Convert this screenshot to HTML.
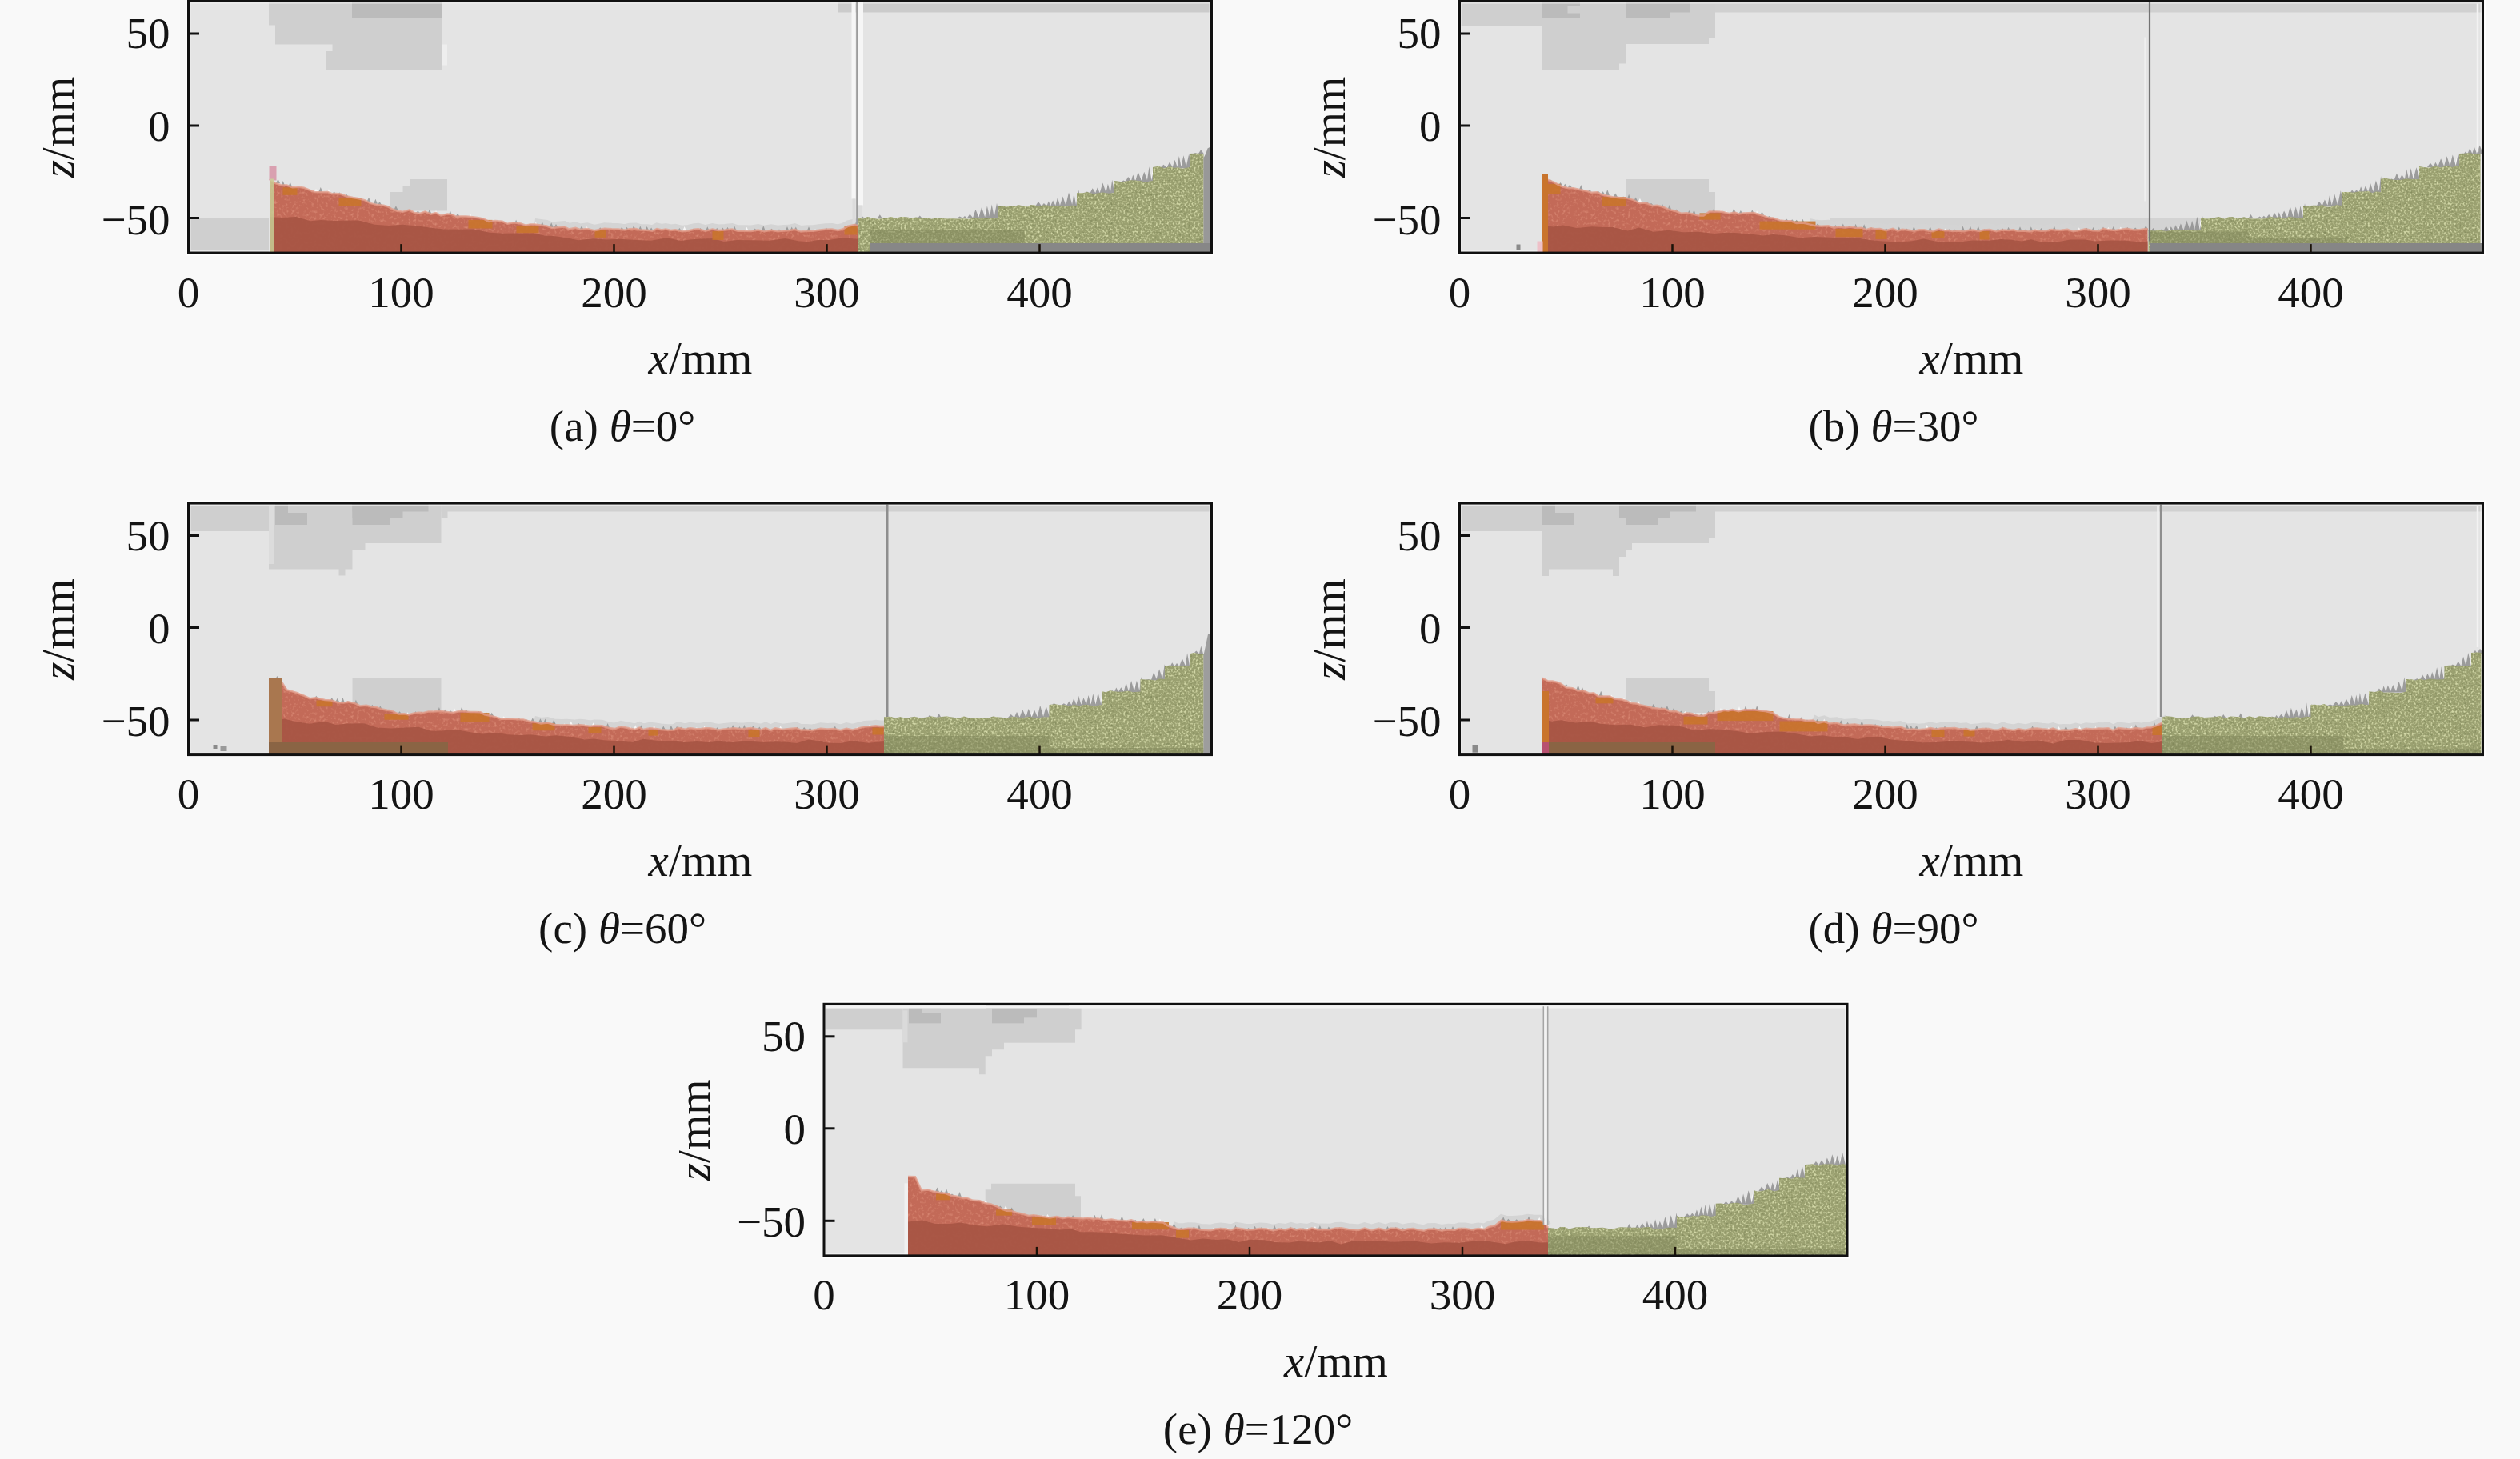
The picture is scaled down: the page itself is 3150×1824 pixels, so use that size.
<!DOCTYPE html>
<html><head><meta charset="utf-8"><title>figure</title>
<style>
html,body{margin:0;padding:0;background:#f9f9f9}
body{width:3150px;height:1824px;overflow:hidden}
svg{display:block}
text{font-family:'Liberation Serif','Times New Roman',serif;font-size:55px;fill:#141414}
</style></head><body>
<svg width="3150" height="1824" viewBox="0 0 3150 1824">
<defs>
<filter id="ngl" x="0" y="0" width="100%" height="100%" color-interpolation-filters="sRGB">
<feTurbulence type="fractalNoise" baseFrequency="0.42 0.4" numOctaves="1" seed="7"/>
<feColorMatrix type="matrix" values="0 0 0 0 0.82  0 0 0 0 0.84  0 0 0 0 0.65  4 0 0 0 -1.9"/>
<feComposite in2="SourceGraphic" operator="in"/>
</filter>
<filter id="ngd" x="0" y="0" width="100%" height="100%" color-interpolation-filters="sRGB">
<feTurbulence type="fractalNoise" baseFrequency="0.36 0.34" numOctaves="1" seed="23"/>
<feColorMatrix type="matrix" values="0 0 0 0 0.50  0 0 0 0 0.53  0 0 0 0 0.35  0 3.5 0 0 -2.0"/>
<feComposite in2="SourceGraphic" operator="in"/>
</filter>
<filter id="nrl" x="0" y="0" width="100%" height="100%" color-interpolation-filters="sRGB">
<feTurbulence type="fractalNoise" baseFrequency="0.28 0.26" numOctaves="2" seed="5"/>
<feColorMatrix type="matrix" values="0 0 0 0 0.84  0 0 0 0 0.52  0 0 0 0 0.44  3 0 0 0 -1.55"/>
<feComposite in2="SourceGraphic" operator="in"/>
</filter>
</defs>
<rect width="3150" height="1824" fill="#f9f9f9"/>
<g transform="translate(235.5,1.5)">
<rect x="0" y="0" width="1279" height="314.6" fill="#e4e4e4"/>
<polygon points="100.5,0 316.5,0 316.5,86.5 172.5,86.5 172.5,62.5 180,62.5 180,54 108.5,54 108.5,30 100.5,30" fill="#cfcfcf"/>
<polygon points="252.5,262 252.5,238.5 268,238.5 268,230.5 277,230.5 277,222.5 323.5,222.5 323.5,262" fill="#cfcfcf"/>
<polygon points="316.5,54 323.5,54 323.5,80 316.5,80" fill="#eeeeee"/>
<rect x="204.5" y="0" width="112" height="21.5" fill="#bbbbbb"/>
<rect x="812.5" y="0" width="466" height="14" fill="#cbcbcb"/>
<rect x="1.5" y="270.5" width="99" height="43.5" fill="#cfcfcf"/>
<rect x="2.4" y="2.4" width="1274.2" height="309.8" fill="none" stroke="#f4f4f4" stroke-width="1.2" opacity="0.7"/>
<polyline points="433,275.4 440.4,276.5 447.8,277.5 454.6,279.9 461.5,279.2 470.1,278.6 475.6,281.4 483.9,279.9 489.6,281.9 498.5,280.9 507.4,283.3 514.8,281.8 520.2,280.7 529.1,281.3 537,281.5 545.3,282.6 551.5,281.3 559.4,281 565.2,282.6 573.7,282.8 579.8,283.8 585.6,281 591.6,282.4 596.7,281.6 603.2,282.9 608.6,282.3 617.3,284.3 624.9,283.4 632.3,281.7 637.3,281.3 646.1,283.6 655,281.5 662.6,282.9 670.5,282.4 679.6,281.6 686.8,283.8 695.5,283.8 703.4,283.9 712.1,282.5 719.9,284.3 728.5,282.7 736.7,284.2 744,283.4 750.5,283.3 757.9,281.7 765.5,284.6 774.1,283.7 780.7,283.8 788,282.8 796.4,281.7 804.5,281.5 811.9,282.9 817.8,281.5 824.7,277.7 833.5,275.9 836.5,276.5" fill="none" stroke="#d4d4d4" stroke-width="8"/>
<path d="M131.6,233.6 l2.5,-2.8 l2.5,2.8 z M157,237.7 l2.5,-3.3 l2.5,3.3 z M172.9,240.5 l2.5,-5.8 l2.5,5.8 z M276.5,263.6 l2.5,-2.8 l2.5,2.8 z M292.2,265.1 l2.5,-2.7 l2.5,2.7 z M307,266.6 l2.5,-5 l2.5,5 z M350.1,271.3 l2.5,-5.5 l2.5,5.5 z M367.7,273.8 l2.5,-2.8 l2.5,2.8 z M385.9,276.3 l2.5,-2.9 l2.5,2.9 z M431.8,281.1 l2.5,-5.1 l2.5,5.1 z M495.7,286.2 l2.5,-4.6 l2.5,4.6 z M617.6,287.3 l2.5,-5.7 l2.5,5.7 z M695.4,287.5 l2.5,-5.2 l2.5,5.2 z M781,287.5 l2.5,-2.8 l2.5,2.8 z" fill="#fafafa" opacity="0.9"/>
<path d="M109.5,227.6 l2.5,-5.4 l2.5,5.4 z M115.7,230.9 l2.5,-6.5 l2.5,6.5 z M124.7,232.4 l2.5,-6.5 l2.5,6.5 z M162.8,238.6 l2.5,-6.2 l2.5,6.2 z M179.6,241.7 l2.5,-4.3 l2.5,4.3 z M186.2,242.9 l2.5,-4.1 l2.5,4.1 z M195,244.5 l2.5,-3.6 l2.5,3.6 z M212.7,247.8 l2.5,-2.2 l2.5,2.2 z M223,250.7 l2.5,-5.5 l2.5,5.5 z M231.4,253.2 l2.5,-6 l2.5,6 z M236.5,254.7 l2.5,-4.3 l2.5,4.3 z M248.1,258.2 l2.5,-2.2 l2.5,2.2 z M256.9,260.8 l2.5,-5.1 l2.5,5.1 z M284.4,264.3 l2.5,-2.1 l2.5,2.1 z M298.9,265.8 l2.5,-5.5 l2.5,5.5 z M324.8,268.4 l2.5,-6.7 l2.5,6.7 z M334.1,269.3 l2.5,-4.3 l2.5,4.3 z M407.1,279.2 l2.5,-6 l2.5,6 z M424.2,280.5 l2.5,-2.4 l2.5,2.4 z M439.8,281.7 l2.5,-6 l2.5,6 z M451.2,282.6 l2.5,-5.9 l2.5,5.9 z M457,283.1 l2.5,-4.6 l2.5,4.6 z M489,285.6 l2.5,-4.6 l2.5,4.6 z M512.2,286.6 l2.5,-3.9 l2.5,3.9 z M539.3,286.8 l2.5,-4.9 l2.5,4.9 z M545.6,286.8 l2.5,-4.5 l2.5,4.5 z M554.2,286.8 l2.5,-6.8 l2.5,6.8 z M562.3,286.9 l2.5,-6 l2.5,6 z M570.7,287 l2.5,-5.5 l2.5,5.5 z M576.1,287 l2.5,-4.1 l2.5,4.1 z M593.4,287.1 l2.5,-2.6 l2.5,2.6 z M611.4,287.2 l2.5,-3.6 l2.5,3.6 z M628.5,287.3 l2.5,-3.1 l2.5,3.1 z M637.6,287.4 l2.5,-3.8 l2.5,3.8 z M646.3,287.4 l2.5,-5.7 l2.5,5.7 z M652.1,287.5 l2.5,-3.3 l2.5,3.3 z M658.2,287.5 l2.5,-4.2 l2.5,4.2 z M665.5,287.5 l2.5,-4.6 l2.5,4.6 z M671.5,287.5 l2.5,-5.2 l2.5,5.2 z M680.3,287.5 l2.5,-6.3 l2.5,6.3 z M705.8,287.5 l2.5,-3.6 l2.5,3.6 z M716.3,287.5 l2.5,-7 l2.5,7 z M726.6,287.5 l2.5,-3.2 l2.5,3.2 z M736,287.5 l2.5,-2.5 l2.5,2.5 z M746,287.5 l2.5,-5.9 l2.5,5.9 z M751.7,287.5 l2.5,-5.4 l2.5,5.4 z M756.8,287.5 l2.5,-5.4 l2.5,5.4 z M773,287.5 l2.5,-5.8 l2.5,5.8 z M786.4,287.5 l2.5,-2.2 l2.5,2.2 z M794.8,287.5 l2.5,-4.8 l2.5,4.8 z M800.6,287.5 l2.5,-3 l2.5,3 z M821.2,282.6 l2.5,-2.3 l2.5,2.3 z M831.9,281.3 l2.5,-5.8 l2.5,5.8 z" fill="#8e8e8e" opacity="0.8"/>
<polygon id="ra" points="101.5,314.6 101.5,222.3 108.8,227.6 115.6,229.8 123,230.1 130,232.7 138.3,232.3 144.4,233.3 152.7,236.6 157.8,238.4 166.8,238.8 174.2,238.6 179.2,240.7 184.4,240.6 190.3,241.1 197.1,243.7 205.6,245.5 213.1,246.8 220.8,248.9 226.9,252.4 236,254.6 243.9,255.3 249.7,257 254.9,260 261.5,262.2 268,263.2 276.5,260.9 282.3,264.4 289.1,265.4 295.7,263.1 303.2,266.1 309.3,264.5 315.6,267.9 323.7,266 329.6,266.6 334.7,269.3 340.4,269.1 347.2,268.9 355.1,269.8 362.7,270.8 369.4,272.1 375.4,275.4 383.7,274.4 392.3,275.3 398.9,278.3 406.5,276.8 415.5,277.9 421.5,280.2 427.8,279.1 433,278.9 440.4,280 447.8,281 454.6,283.4 461.5,282.7 470.1,282.1 475.6,284.9 483.9,283.4 489.6,285.4 498.5,284.4 507.4,286.8 514.8,285.3 520.2,284.2 529.1,284.8 537,285 545.3,286.1 551.5,284.8 559.4,284.5 565.2,286.1 573.7,286.3 579.8,287.3 585.6,284.5 591.6,285.9 596.7,285.1 603.2,286.4 608.6,285.8 617.3,287.8 624.9,286.9 632.3,285.2 637.3,284.8 646.1,287.1 655,285 662.6,286.4 670.5,285.9 679.6,285.1 686.8,287.3 695.5,287.3 703.4,287.4 712.1,286 719.9,287.8 728.5,286.2 736.7,287.7 744,286.9 750.5,286.8 757.9,285.2 765.5,288.1 774.1,287.2 780.7,287.3 788,286.3 796.4,285.2 804.5,285 811.9,286.4 817.8,285 824.7,281.2 833.5,279.4 836.5,280 836.5,314.6" fill="#c36a58"/>
<use href="#ra" filter="url(#nrl)"/>
<polygon points="101.5,314.6 101.5,269.8 117.6,270.6 134.6,269.5 152.5,274.7 165.5,273.5 183.8,274.4 196.9,273.9 213,274.1 232.8,279.2 250.7,280.6 268,279.3 284.9,280.8 305.5,283.5 319.2,284.9 337.6,285.3 356.6,285 376.4,289.3 394.3,290.3 412.8,290.1 431,289.9 445.4,293 456.7,293.4 474.1,296.1 487.5,298.7 505.1,296.7 522.6,298 538.9,297.2 559.7,298.6 577.7,299.3 598.3,295.7 615.4,299.4 629.1,297.8 640.7,296.9 655.5,296.5 669.2,300.5 685.6,298.5 706.1,298.8 726.9,299.2 745.8,296.4 762.8,299.8 774.4,300.7 787.1,298.4 800,298.5 817,295.9 836.5,297 836.5,314.6" fill="#a85545" opacity="0.95"/>
<rect x="118" y="232.8" width="18" height="9.5" fill="#c9742c" opacity="0.9"/>
<rect x="188" y="245.8" width="28" height="10.2" fill="#c9742c" opacity="0.9"/>
<rect x="350" y="273.4" width="30" height="10.6" fill="#c9742c" opacity="0.9"/>
<rect x="410" y="280.5" width="28" height="9.2" fill="#c9742c" opacity="0.9"/>
<rect x="508" y="286.6" width="14" height="8.7" fill="#c9742c" opacity="0.9"/>
<rect x="655" y="287.5" width="14" height="10.9" fill="#c9742c" opacity="0.9"/>
<rect x="820" y="281.6" width="16" height="10.4" fill="#c9742c" opacity="0.9"/>
<polyline points="101.5,222.3 108.8,227.6 115.6,229.8 123,230.1 130,232.7 138.3,232.3 144.4,233.3 152.7,236.6 157.8,238.4 166.8,238.8 174.2,238.6 179.2,240.7 184.4,240.6 190.3,241.1 197.1,243.7 205.6,245.5 213.1,246.8 220.8,248.9 226.9,252.4 236,254.6 243.9,255.3 249.7,257 254.9,260 261.5,262.2 268,263.2 276.5,260.9 282.3,264.4 289.1,265.4 295.7,263.1 303.2,266.1 309.3,264.5 315.6,267.9 323.7,266 329.6,266.6 334.7,269.3 340.4,269.1 347.2,268.9 355.1,269.8 362.7,270.8 369.4,272.1 375.4,275.4 383.7,274.4 392.3,275.3 398.9,278.3 406.5,276.8 415.5,277.9 421.5,280.2 427.8,279.1 433,278.9 440.4,280 447.8,281 454.6,283.4 461.5,282.7 470.1,282.1 475.6,284.9 483.9,283.4 489.6,285.4 498.5,284.4 507.4,286.8 514.8,285.3 520.2,284.2 529.1,284.8 537,285 545.3,286.1 551.5,284.8 559.4,284.5 565.2,286.1 573.7,286.3 579.8,287.3 585.6,284.5 591.6,285.9 596.7,285.1 603.2,286.4 608.6,285.8 617.3,287.8 624.9,286.9 632.3,285.2 637.3,284.8 646.1,287.1 655,285 662.6,286.4 670.5,285.9 679.6,285.1 686.8,287.3 695.5,287.3 703.4,287.4 712.1,286 719.9,287.8 728.5,286.2 736.7,287.7 744,286.9 750.5,286.8 757.9,285.2 765.5,288.1 774.1,287.2 780.7,287.3 788,286.3 796.4,285.2 804.5,285 811.9,286.4 817.8,285 824.7,281.2 833.5,279.4 836.5,280" fill="none" stroke="#e29c8a" stroke-width="2.5" opacity="0.8"/>
<rect x="101" y="206" width="9" height="18" fill="#d9a0b0"/>
<rect x="101.5" y="222" width="5" height="92" fill="#c9d49a" opacity="0.8"/>
<path d="M966.6,271.5 l2,-1.1 l3,1.1 z M972.3,271.5 l2,-1.7 l3,1.7 z M979.3,271.5 l2,-3.5 l3,3.5 z M986.5,271.5 l2,-8.1 l3,8.1 z M994.2,271.5 l2,-10.2 l3,10.2 z M1115.1,256.5 l2,-15.6 l3,15.6 z M1145.5,240.5 l2,-9.9 l3,9.9 z M1151.4,240.5 l2,-9 l3,9 z M1177.1,225.5 l2,-3.9 l3,3.9 z M1182.6,225.5 l2,-6 l3,6 z M1189.8,225.5 l2,-8.9 l3,8.9 z M1202.8,225.5 l2,-14.1 l3,14.1 z M1210,225.5 l2,-13.9 l3,13.9 z M1221.7,208.5 l2,-2.6 l3,2.6 z M1235,208.5 l2,-7.3 l3,7.3 z M1240,208.5 l2,-11.3 l3,11.3 z M1253.2,208.5 l2,-13.1 l3,13.1 z M1261,191.5 l2,-0.9 l3,0.9 z" fill="#fafafa" opacity="0.85"/>
<path d="M960.5,271.5 L964.2,269.1 L968.5,271.5 z M967.6,271.5 L970.4,268.4 L973.7,271.5 z M973,271.5 L976.8,266.1 L981.2,271.5 z M980.2,271.5 L984,260.3 L988.3,271.5 z M987.4,271.5 L991.5,257.8 L996.3,271.5 z M995.3,271.5 L998.4,255.9 L1002.1,271.5 z M1001.3,271.5 L1004.2,253.9 L1007.5,271.5 z M1006.8,271.5 L1010.5,252.5 L1014.8,271.5 z M1058.5,256.5 L1062.4,250.6 L1066.9,256.5 z M1065.9,256.5 L1069.4,252.6 L1073.6,256.5 z M1072.7,256.5 L1075.2,250.1 L1078.1,256.5 z M1077.5,256.5 L1080.6,249 L1084.4,256.5 z M1083.6,256.5 L1086.5,245.5 L1089.8,256.5 z M1089.1,256.5 L1092.9,244 L1097.3,256.5 z M1096.4,256.5 L1100.5,238.9 L1105.3,256.5 z M1104.3,256.5 L1106.9,240.2 L1109.9,256.5 z M1109.2,256.5 L1112.8,236 L1116.9,256.5 z M1119.7,240.5 L1123.3,238.1 L1127.6,240.5 z M1126.7,240.5 L1130.2,233.7 L1134.3,240.5 z M1133.4,240.5 L1136.3,232.9 L1139.6,240.5 z M1138.9,240.5 L1142.9,227.1 L1147.5,240.5 z M1146.5,240.5 L1149.4,228.3 L1152.8,240.5 z M1152.1,240.5 L1154.7,223.2 L1157.7,240.5 z M1166.3,225.5 L1168.9,224.1 L1171.8,225.5 z M1171.2,225.5 L1174.7,219.6 L1178.9,225.5 z M1178,225.5 L1180.8,217 L1184,225.5 z M1183.3,225.5 L1187.2,213.4 L1191.8,225.5 z M1190.8,225.5 L1194.7,213.3 L1199.2,225.5 z M1198.2,225.5 L1201,206.8 L1204.2,225.5 z M1203.5,225.5 L1207.4,207.1 L1211.9,225.5 z M1214.7,208.5 L1218.9,204.2 L1223.8,208.5 z M1222.7,208.5 L1226.5,201.1 L1230.8,208.5 z M1229.9,208.5 L1233,198.3 L1236.5,208.5 z M1235.8,208.5 L1238.3,193.4 L1241.3,208.5 z M1240.6,208.5 L1243.9,192.7 L1247.7,208.5 z M1246.9,208.5 L1250.7,191.1 L1255.1,208.5 z M1255,191.5 L1258.6,189.4 L1262.8,191.5 z M1261.9,191.5 L1265.6,185.8 L1269.9,191.5 z M839.5,271.5 l3,-2.6 l3,2.6 z M861.3,271.5 l3,-4.8 l3,4.8 z M911.3,271.5 l3,-3.6 l3,3.6 z" fill="#8e8e8e" opacity="0.85"/>
<polygon id="ga" points="836.5,314.6 836.5,270.5 843.5,271.9 848.7,269.4 854.7,270.9 861,272.2 867.6,271.7 871.9,270.9 879,269.6 883.3,271.5 890.9,269.6 897.5,269.7 904.4,271.2 909.4,270 916.5,270.9 923.6,270.5 928.9,272.2 935.6,270.8 941.7,271.5 948.6,272 954.2,271.8 960.9,271.9 968.1,271.8 975.7,272.2 982.2,270.9 989.1,271.7 994.8,270.6 999.3,271.5 1007.3,270.4 1012.5,270.5 1012.5,255.5 1017.3,255.6 1022.5,257.2 1026.7,255.2 1031.2,256.2 1038.3,254.8 1042.5,255.7 1048.9,257 1053,254.6 1057.8,255 1062.7,256.5 1069.1,255 1073.8,255.1 1078.5,256.6 1083.8,255.9 1091,255.7 1096.1,257 1103.7,255.3 1110.5,255.5 1110.5,239.5 1118.3,239.7 1123.2,238.4 1131,240.7 1136.5,239.9 1142.6,239.1 1150.6,240.3 1156.5,239.5 1156.5,224.5 1160.5,224.7 1166,225.7 1172.9,225.1 1177.5,223.8 1182.8,224.1 1190.3,224.8 1196.8,226.3 1201.9,224.9 1205.5,224.5 1205.5,207.5 1212.6,206.3 1219.9,208.8 1227.2,206.5 1232.2,208.4 1236.6,207.7 1242.5,209.2 1251.5,207.5 1251.5,190.5 1258.9,190.2 1269,190.5 1269,314.6" fill="#9aa070"/>
<use href="#ga" filter="url(#ngl)"/>
<use href="#ga" filter="url(#ngd)"/>
<polygon points="852,286 1045,286 1045,303 852,303" fill="#80855a" opacity="0.5"/>
<polygon points="1269,314 1269,196 1272,190 1274,184 1277.5,182 1277.5,314" fill="#8f8f8f" opacity="0.9"/>
<rect x="852" y="302.5" width="425.5" height="11.5" fill="#878787"/>
<line x1="831.5" y1="1.5" x2="831.5" y2="247" stroke="#f6f6f6" stroke-width="5"/>
<line x1="840.5" y1="1.5" x2="840.5" y2="255" stroke="#f6f6f6" stroke-width="6"/>
<line x1="832" y1="247" x2="832" y2="278" stroke="#dcdcdc" stroke-width="4"/>
<line x1="840" y1="255" x2="840" y2="270" stroke="#dcdcdc" stroke-width="5"/>
<line x1="835.7" y1="1.5" x2="835.7" y2="279" stroke="#9c9c9c" stroke-width="2"/>
<line x1="0" y1="40.5" x2="13.5" y2="40.5" stroke="#111" stroke-width="3"/>
<line x1="0" y1="155.5" x2="13.5" y2="155.5" stroke="#111" stroke-width="3"/>
<line x1="0" y1="271" x2="13.5" y2="271" stroke="#111" stroke-width="3"/>
<line x1="266" y1="314.6" x2="266" y2="303.6" stroke="#1a1208" stroke-width="2.5"/>
<line x1="532" y1="314.6" x2="532" y2="303.6" stroke="#1a1208" stroke-width="2.5"/>
<line x1="798" y1="314.6" x2="798" y2="303.6" stroke="#1a1208" stroke-width="2.5"/>
<line x1="1064" y1="314.6" x2="1064" y2="303.6" stroke="#1a1208" stroke-width="2.5"/>
<rect x="-2.6" y="-2.6" width="1284.2" height="319.8" fill="none" stroke="#ffffff" stroke-width="1.6"/>
<rect x="0" y="0" width="1279" height="314.6" fill="none" stroke="#111" stroke-width="3"/>
</g>
<g transform="translate(1824.5,1.5)">
<rect x="0" y="0" width="1279" height="314.6" fill="#e4e4e4"/>
<polygon points="103.5,0 319.5,0 319.5,46.5 311.5,46.5 311.5,53.5 207.5,53.5 207.5,78 199.5,78 199.5,86.5 103.5,86.5" fill="#cfcfcf"/>
<polygon points="207.5,222.5 311.5,222.5 311.5,238.5 319.5,238.5 319.5,270 207.5,270" fill="#cfcfcf"/>
<rect x="1.5" y="0" width="102" height="30.5" fill="#cfcfcf"/>
<rect x="319.5" y="0" width="958" height="14" fill="#d0d0d0"/>
<rect x="103.5" y="0" width="47" height="21.5" fill="#bbbbbb"/>
<rect x="135" y="6" width="16" height="9" fill="#cfcfcf"/>
<rect x="207.5" y="0" width="80" height="14" fill="#bbbbbb"/>
<rect x="207.5" y="0" width="56" height="21.5" fill="#bbbbbb"/>
<rect x="462.5" y="270.5" width="464" height="17" fill="#d3d3d3"/>
<rect x="71" y="304" width="5" height="7" fill="#8a8a8a"/>
<rect x="2.4" y="2.4" width="1274.2" height="309.8" fill="none" stroke="#f4f4f4" stroke-width="1.2" opacity="0.7"/>
<polyline points="437.2,275.4 443.6,276.9 452,277.7 460.8,277.2 467.8,279.6 474.2,278.4 482,279.6 488,278.6 497,279.9 502.4,279.7 508.3,282.1 514,280.4 519.3,281.2 525.1,281.1 533.1,283.3 541.5,280.8 547.9,283.6 553,281.8 559.9,282.6 568,283.7 574.8,282.2 580.7,282.3 585.9,283.5 591.5,284.2 599.1,281.6 606.1,283.3 611.1,283 616.2,283.9 621.1,283.4 630.1,284.1 636,283.1 641.5,282.5 650,284 655,282.6 662.5,282 670.8,284.3 678,282.6 686.5,283 692.2,282.3 697.8,284.1 704.8,283.6 713.1,284.5 718.8,282.7 727.4,283.8 733.9,283.5 739.6,281.9 744.8,282.6 750.6,283.1 759.6,281.9 766.9,284.2 774.3,283.1 782.4,281.4 791.3,283.2 799.6,283.4 804.9,280.8 810.5,282.1 819.4,283.1 826,282 834,280.8 843,282.4 850.9,282.1 859.2,281 860,280.5" fill="none" stroke="#d4d4d4" stroke-width="8"/>
<path d="M222.9,251.5 l2.5,-5.2 l2.5,5.2 z M324.2,264.5 l2.5,-4.4 l2.5,4.4 z M330.6,264.8 l2.5,-3.4 l2.5,3.4 z M354.7,266 l2.5,-2.2 l2.5,2.2 z M369.1,266.7 l2.5,-4.9 l2.5,4.9 z M595.5,287.5 l2.5,-3.2 l2.5,3.2 z M604.5,287.5 l2.5,-3.5 l2.5,3.5 z M718.9,287.5 l2.5,-3.1 l2.5,3.1 z M759.3,287.5 l2.5,-2.4 l2.5,2.4 z M771.8,287.5 l2.5,-4.7 l2.5,4.7 z M808.4,286.6 l2.5,-4 l2.5,4 z M823.9,286.1 l2.5,-4 l2.5,4 z" fill="#fafafa" opacity="0.9"/>
<path d="M111.5,226.2 l2.5,-3.2 l2.5,3.2 z M123.6,230.2 l2.5,-3.6 l2.5,3.6 z M129.3,231.9 l2.5,-3.7 l2.5,3.7 z M135.3,233.1 l2.5,-4.1 l2.5,4.1 z M149.3,235.9 l2.5,-6.4 l2.5,6.4 z M160,238 l2.5,-2.2 l2.5,2.2 z M170.7,240.1 l2.5,-3.1 l2.5,3.1 z M176.5,241.3 l2.5,-3.6 l2.5,3.6 z M182.3,242.5 l2.5,-7 l2.5,7 z M192.3,244.5 l2.5,-4.4 l2.5,4.4 z M202.1,246.4 l2.5,-2.3 l2.5,2.3 z M209.1,247.9 l2.5,-6.6 l2.5,6.6 z M217.6,250.1 l2.5,-5.2 l2.5,5.2 z M231.9,253.8 l2.5,-3.4 l2.5,3.4 z M237,255.1 l2.5,-2.8 l2.5,2.8 z M251,258.7 l2.5,-5.2 l2.5,5.2 z M259.8,261 l2.5,-6.6 l2.5,6.6 z M268.3,263.2 l2.5,-3.2 l2.5,3.2 z M284.4,266.2 l2.5,-4.8 l2.5,4.8 z M290.5,267.3 l2.5,-6.6 l2.5,6.6 z M315.1,264 l2.5,-4.6 l2.5,4.6 z M340.4,265.3 l2.5,-6.9 l2.5,6.9 z M348.9,265.7 l2.5,-4.1 l2.5,4.1 z M363.3,266.4 l2.5,-5.9 l2.5,5.9 z M375.5,267.2 l2.5,-3.9 l2.5,3.9 z M384.4,270.4 l2.5,-2 l2.5,2 z M406,274.5 l2.5,-2.5 l2.5,2.5 z M413.2,275.6 l2.5,-2.9 l2.5,2.9 z M418.7,276.5 l2.5,-3.3 l2.5,3.3 z M426.4,277.7 l2.5,-5.5 l2.5,5.5 z M434.9,279.1 l2.5,-2.9 l2.5,2.9 z M445,280.7 l2.5,-2.6 l2.5,2.6 z M467.4,283.7 l2.5,-4.2 l2.5,4.2 z M476.8,284.1 l2.5,-6 l2.5,6 z M484.3,284.4 l2.5,-3.7 l2.5,3.7 z M492.6,284.7 l2.5,-6.5 l2.5,6.5 z M503.2,285.2 l2.5,-6.5 l2.5,6.5 z M512.3,285.5 l2.5,-2.8 l2.5,2.8 z M530.8,286.3 l2.5,-2.4 l2.5,2.4 z M546.8,287 l2.5,-5.1 l2.5,5.1 z M556.6,287.4 l2.5,-3.4 l2.5,3.4 z M565.4,287.5 l2.5,-6.1 l2.5,6.1 z M580,287.5 l2.5,-2.1 l2.5,2.1 z M585.7,287.5 l2.5,-5.8 l2.5,5.8 z M610,287.5 l2.5,-3.1 l2.5,3.1 z M616.1,287.5 l2.5,-2.4 l2.5,2.4 z M626.5,287.5 l2.5,-6.5 l2.5,6.5 z M635.9,287.5 l2.5,-6.5 l2.5,6.5 z M645.8,287.5 l2.5,-6.4 l2.5,6.4 z M653.6,287.5 l2.5,-2.7 l2.5,2.7 z M670.5,287.5 l2.5,-3.7 l2.5,3.7 z M676.1,287.5 l2.5,-3.8 l2.5,3.8 z M683.6,287.5 l2.5,-5.3 l2.5,5.3 z M698,287.5 l2.5,-5.8 l2.5,5.8 z M705,287.5 l2.5,-2.6 l2.5,2.6 z M711.8,287.5 l2.5,-5.7 l2.5,5.7 z M724.4,287.5 l2.5,-4 l2.5,4 z M734.8,287.5 l2.5,-3.1 l2.5,3.1 z M740.8,287.5 l2.5,-6.8 l2.5,6.8 z M751.3,287.5 l2.5,-2.2 l2.5,2.2 z M781.5,287.5 l2.5,-4.3 l2.5,4.3 z M789.6,287.2 l2.5,-4.6 l2.5,4.6 z M796,287 l2.5,-2.2 l2.5,2.2 z M802,286.8 l2.5,-4.7 l2.5,4.7 z M814.8,286.4 l2.5,-5 l2.5,5 z M832.4,285.9 l2.5,-3.5 l2.5,3.5 z M842.2,285.6 l2.5,-2.5 l2.5,2.5 z M855.3,285.1 l2.5,-4.5 l2.5,4.5 z" fill="#8e8e8e" opacity="0.8"/>
<polygon id="rb" points="103.5,314.6 103.5,224 109,222.8 118.1,226.4 123.5,229.6 129.8,232.2 135.7,233.6 142,233.7 150.8,235.7 159.6,237.6 164.7,239.2 172,238.8 177.7,241.7 185.1,243.4 193.2,245.1 200.5,245.7 208,245.9 216.9,248.3 225.1,252.5 232.7,251.9 241.1,255.7 246.8,255.2 253.9,257 262.7,260.8 269.7,262.3 277.4,265.3 283.6,264.7 291,265.8 298.4,267.9 305.1,267.9 312.2,262.9 321.3,262.9 328,263.3 336.8,265.5 343.9,264.1 349.2,266 354.8,265.1 361.1,264.8 367.5,264.6 372.6,266 380.8,268.6 386.6,270.8 391.7,270.9 400.1,273.9 406.9,274.7 413.9,274.8 421.3,277.5 429.3,277.1 437.2,278.9 443.6,280.4 452,281.2 460.8,280.7 467.8,283.1 474.2,281.9 482,283.1 488,282.1 497,283.4 502.4,283.2 508.3,285.6 514,283.9 519.3,284.7 525.1,284.6 533.1,286.8 541.5,284.3 547.9,287.1 553,285.3 559.9,286.1 568,287.2 574.8,285.7 580.7,285.8 585.9,287 591.5,287.7 599.1,285.1 606.1,286.8 611.1,286.5 616.2,287.4 621.1,286.9 630.1,287.6 636,286.6 641.5,286 650,287.5 655,286.1 662.5,285.5 670.8,287.8 678,286.1 686.5,286.5 692.2,285.8 697.8,287.6 704.8,287.1 713.1,288 718.8,286.2 727.4,287.3 733.9,287 739.6,285.4 744.8,286.1 750.6,286.6 759.6,285.4 766.9,287.7 774.3,286.6 782.4,284.9 791.3,286.7 799.6,286.9 804.9,284.3 810.5,285.6 819.4,286.6 826,285.5 834,284.3 843,285.9 850.9,285.6 859.2,284.5 860,284 860,314.6" fill="#c36a58"/>
<use href="#rb" filter="url(#nrl)"/>
<polygon points="103.5,314.6 103.5,279.5 117.1,281.9 129.2,280.1 146.1,283.6 165.6,281.8 179.4,282.5 191.7,282.6 210.3,286.9 224.1,283 242.4,288.2 261.2,286.2 279.5,288.7 297.9,288.2 318.7,290.5 332.1,289.3 344.2,289.6 363.2,290.9 379.5,293.1 391.5,291.5 407.3,292.8 425.1,295.8 444,294.6 461.8,295.3 482.4,296.5 499.3,296.2 514.6,298.7 529.3,300 547.5,301.1 565.5,299.7 580.2,297 597.8,300.7 615.9,300.8 627.5,300.4 641.4,299 660.9,299.2 676.6,297.4 689.5,298.3 702.8,299.9 714.4,297.7 726.5,301 747,301.1 763.1,298.1 781.9,298.1 793.8,300.1 813.3,299.1 832.8,299.2 853.2,301.2 860,300 860,314.6" fill="#a85545" opacity="0.95"/>
<rect x="110" y="228.3" width="16" height="12.9" fill="#c9742c" opacity="0.9"/>
<rect x="178" y="244.6" width="30" height="11.9" fill="#c9742c" opacity="0.9"/>
<rect x="300" y="264.9" width="26" height="8.2" fill="#c9742c" opacity="0.9"/>
<rect x="375" y="275.1" width="70" height="10.1" fill="#c9742c" opacity="0.9"/>
<rect x="470" y="284.5" width="34" height="10.3" fill="#c9742c" opacity="0.9"/>
<rect x="520" y="286.1" width="14" height="11.3" fill="#c9742c" opacity="0.9"/>
<rect x="590" y="287.5" width="16" height="8.4" fill="#c9742c" opacity="0.9"/>
<rect x="650" y="287.5" width="12" height="10.5" fill="#c9742c" opacity="0.9"/>
<polyline points="103.5,224 109,222.8 118.1,226.4 123.5,229.6 129.8,232.2 135.7,233.6 142,233.7 150.8,235.7 159.6,237.6 164.7,239.2 172,238.8 177.7,241.7 185.1,243.4 193.2,245.1 200.5,245.7 208,245.9 216.9,248.3 225.1,252.5 232.7,251.9 241.1,255.7 246.8,255.2 253.9,257 262.7,260.8 269.7,262.3 277.4,265.3 283.6,264.7 291,265.8 298.4,267.9 305.1,267.9 312.2,262.9 321.3,262.9 328,263.3 336.8,265.5 343.9,264.1 349.2,266 354.8,265.1 361.1,264.8 367.5,264.6 372.6,266 380.8,268.6 386.6,270.8 391.7,270.9 400.1,273.9 406.9,274.7 413.9,274.8 421.3,277.5 429.3,277.1 437.2,278.9 443.6,280.4 452,281.2 460.8,280.7 467.8,283.1 474.2,281.9 482,283.1 488,282.1 497,283.4 502.4,283.2 508.3,285.6 514,283.9 519.3,284.7 525.1,284.6 533.1,286.8 541.5,284.3 547.9,287.1 553,285.3 559.9,286.1 568,287.2 574.8,285.7 580.7,285.8 585.9,287 591.5,287.7 599.1,285.1 606.1,286.8 611.1,286.5 616.2,287.4 621.1,286.9 630.1,287.6 636,286.6 641.5,286 650,287.5 655,286.1 662.5,285.5 670.8,287.8 678,286.1 686.5,286.5 692.2,285.8 697.8,287.6 704.8,287.1 713.1,288 718.8,286.2 727.4,287.3 733.9,287 739.6,285.4 744.8,286.1 750.6,286.6 759.6,285.4 766.9,287.7 774.3,286.6 782.4,284.9 791.3,286.7 799.6,286.9 804.9,284.3 810.5,285.6 819.4,286.6 826,285.5 834,284.3 843,285.9 850.9,285.6 859.2,284.5 860,284" fill="none" stroke="#e29c8a" stroke-width="2.5" opacity="0.8"/>
<rect x="103.5" y="216" width="7" height="98" fill="#c9742c"/>
<rect x="97" y="300" width="7" height="14" fill="#eec0c8"/>
<path d="M879.1,287.5 l2,-1.1 l3,1.1 z M885.4,287.5 l2,-4.5 l3,4.5 z M891.3,287.5 l2,-3.8 l3,3.8 z M897,287.5 l2,-5.4 l3,5.4 z M924.1,287.5 l2,-13.8 l3,13.8 z M1007.1,271.5 l2,-1.8 l3,1.8 z M1014.1,271.5 l2,-3.2 l3,3.2 z M1026,271.5 l2,-5.4 l3,5.4 z M1033.3,271.5 l2,-6.8 l3,6.8 z M1058.6,271.5 l2,-14.3 l3,14.3 z M1104.1,256.5 l2,-15.1 l3,15.1 z M1167.2,223.5 l2,-0.5 l3,0.5 z M1180.2,223.5 l2,-4.5 l3,4.5 z M1185.4,223.5 l2,-10 l3,10 z M1191,223.5 l2,-11.1 l3,11.1 z M1236.5,207.5 l2,-10.3 l3,10.3 z M1243.9,207.5 l2,-11.5 l3,11.5 z M1259.1,191.5 l2,-2.1 l3,2.1 z M1270.4,191.5 l2,-6.6 l3,6.6 z" fill="#fafafa" opacity="0.85"/>
<path d="M874.5,287.5 L877.2,285.1 L880.4,287.5 z M879.7,287.5 L883.1,280.9 L887.1,287.5 z M886.2,287.5 L889.3,281.8 L892.8,287.5 z M892.1,287.5 L895,279.7 L898.5,287.5 z M897.8,287.5 L901.4,277.9 L905.6,287.5 z M904.7,287.5 L908.7,274.1 L913.5,287.5 z M912.5,287.5 L915.6,274.2 L919.2,287.5 z M918.5,287.5 L921.8,269.2 L925.7,287.5 z M924.9,287.5 L928.5,268.6 L932.6,287.5 z M1002.5,271.5 L1005.3,268.3 L1008.5,271.5 z M1007.8,271.5 L1011.6,266.4 L1016,271.5 z M1015,271.5 L1018.5,264.3 L1022.6,271.5 z M1021.7,271.5 L1024.2,263.8 L1027.2,271.5 z M1026.6,271.5 L1030.6,262 L1035.3,271.5 z M1034.3,271.5 L1038.2,256.4 L1042.7,271.5 z M1041.7,271.5 L1045.2,257 L1049.1,271.5 z M1048.3,271.5 L1051,255.6 L1054.1,271.5 z M1053.4,271.5 L1056.5,252.7 L1060.1,271.5 z M1064.3,256.5 L1067.7,255 L1071.7,256.5 z M1070.9,256.5 L1074.5,250.2 L1078.8,256.5 z M1077.9,256.5 L1081.4,248 L1085.6,256.5 z M1084.7,256.5 L1087.4,243.1 L1090.6,256.5 z M1089.9,256.5 L1093.7,241.2 L1098.1,256.5 z M1097.2,256.5 L1101.3,236.7 L1106.2,256.5 z M1113.1,239.5 L1115.6,236.1 L1118.5,239.5 z M1117.9,239.5 L1121,236 L1124.7,239.5 z M1123.9,239.5 L1126.6,231.8 L1129.8,239.5 z M1129.1,239.5 L1132.4,230.7 L1136.2,239.5 z M1135.4,239.5 L1138.6,227.7 L1142.4,239.5 z M1141.6,239.5 L1145.4,224 L1149.9,239.5 z M1148.9,239.5 L1151.6,218.7 L1154.8,239.5 z M1161.1,223.5 L1164.8,221.9 L1169,223.5 z M1168.1,223.5 L1171.4,215.3 L1175.2,223.5 z M1174.4,223.5 L1177.9,216.8 L1182,223.5 z M1181.1,223.5 L1183.7,210 L1186.7,223.5 z M1186,223.5 L1189,208.7 L1192.5,223.5 z M1191.8,223.5 L1195.9,207.7 L1200.8,223.5 z M1209.5,207.5 L1213.4,202.3 L1218,207.5 z M1217,207.5 L1219.9,201.3 L1223.3,207.5 z M1222.6,207.5 L1226.6,196.8 L1231.2,207.5 z M1230.2,207.5 L1234,193.7 L1238.4,207.5 z M1237.5,207.5 L1241.3,192.1 L1245.8,207.5 z M1244.8,207.5 L1248.4,190.5 L1252.5,207.5 z M1254.8,191.5 L1257.4,187.9 L1260.4,191.5 z M1259.7,191.5 L1262.7,183.7 L1266.3,191.5 z M1265.5,191.5 L1268.4,182.2 L1271.8,191.5 z M1271.1,191.5 L1275.1,179.9 L1279.7,191.5 z M864,287.5 l3,-4 l3,4 z M986,271.5 l3,-4.9 l3,4.9 z M997.1,271.5 l3,-2.4 l3,2.4 z" fill="#8e8e8e" opacity="0.85"/>
<polygon id="gb" points="861,314.6 861,286.5 868.6,286.9 874.6,285.9 882.3,287.6 886.9,287 894.9,286.1 900.4,286.4 905.9,285.7 912.4,286 919.1,286.7 926.5,286.5 926.5,270.5 933.5,271.9 938.1,271.7 945.2,270.2 949.2,269.6 956.3,272.2 960.6,270 966.2,269.5 972.7,271.9 980.1,269.8 987.8,271.7 992.4,271.9 1000.1,271.9 1007.1,271.8 1013.2,269.3 1020,270.8 1024.5,269.7 1032.1,272 1036.3,269.4 1043.1,270.2 1050.6,270.7 1054.5,270.5 1054.5,255.5 1058.7,256.6 1063.5,255.6 1069.4,255.3 1074.4,255.6 1078.6,254.8 1083.1,256.9 1088.4,257.3 1096,254.8 1103.5,255.5 1103.5,238.5 1111.4,238.6 1117.4,239.3 1123.3,238.1 1130.3,238 1135.8,237.4 1141.1,239.7 1145.7,237.9 1151.5,238.5 1151.5,222.5 1156.7,221.3 1160.9,221.9 1168.1,223.6 1175.3,223.4 1183.3,222.1 1190.1,222.6 1199.5,222.5 1199.5,206.5 1205.3,207.5 1212.4,208.2 1219.4,206.3 1226,207.7 1233.8,206 1240.7,207.5 1245.3,205.7 1249.5,206.5 1249.5,190.5 1255.9,190.3 1262.4,189.7 1268.7,190.9 1276,190.5 1276,314.6" fill="#9aa070"/>
<use href="#gb" filter="url(#ngl)"/>
<use href="#gb" filter="url(#ngd)"/>
<polygon points="862.5,288 986.5,288 986.5,296 1110,296 1110,303 862.5,303" fill="#80855a" opacity="0.5"/>
<rect x="862.5" y="302.5" width="415" height="11.5" fill="#868686"/>
<line x1="862.5" y1="1.5" x2="862.5" y2="300" stroke="#737373" stroke-width="2.2"/>
<line x1="857" y1="45" x2="857" y2="250" stroke="#efefef" stroke-width="2.5"/>
<line x1="1272.5" y1="3" x2="1272.5" y2="188" stroke="#f2f2f2" stroke-width="2.5"/>
<line x1="0" y1="40.5" x2="13.5" y2="40.5" stroke="#111" stroke-width="3"/>
<line x1="0" y1="155.5" x2="13.5" y2="155.5" stroke="#111" stroke-width="3"/>
<line x1="0" y1="271" x2="13.5" y2="271" stroke="#111" stroke-width="3"/>
<line x1="266" y1="314.6" x2="266" y2="303.6" stroke="#1a1208" stroke-width="2.5"/>
<line x1="532" y1="314.6" x2="532" y2="303.6" stroke="#1a1208" stroke-width="2.5"/>
<line x1="798" y1="314.6" x2="798" y2="303.6" stroke="#1a1208" stroke-width="2.5"/>
<line x1="1064" y1="314.6" x2="1064" y2="303.6" stroke="#1a1208" stroke-width="2.5"/>
<rect x="-2.6" y="-2.6" width="1284.2" height="319.8" fill="none" stroke="#ffffff" stroke-width="1.6"/>
<rect x="0" y="0" width="1279" height="314.6" fill="none" stroke="#111" stroke-width="3"/>
</g>
<g transform="translate(235.5,629)">
<rect x="0" y="0" width="1279" height="314.6" fill="#e4e4e4"/>
<polygon points="100.5,0 316,0 316,50 221,50 221,59 205,59 205,82.5 196,82.5 196,90.5 188,90.5 188,82.5 100.5,82.5" fill="#cfcfcf"/>
<polygon points="205,219 316,219 316,266 205,266" fill="#cfcfcf"/>
<rect x="1.5" y="0" width="99" height="35" fill="#cfcfcf"/>
<rect x="316" y="0" width="961.5" height="10.5" fill="#d0d0d0"/>
<rect x="316" y="0" width="8" height="18" fill="#d0d0d0"/>
<rect x="108.5" y="0" width="40" height="27" fill="#bbbbbb"/>
<rect x="124.5" y="0" width="24" height="12" fill="#cfcfcf"/>
<rect x="205" y="0" width="95" height="10.5" fill="#bbbbbb"/>
<rect x="205" y="0" width="63" height="19" fill="#bbbbbb"/>
<rect x="205" y="0" width="47" height="27" fill="#bbbbbb"/>
<rect x="100.5" y="4" width="6" height="72" fill="#dcdcdc"/>
<rect x="31" y="302" width="5" height="6" fill="#8a8a8a"/>
<rect x="40" y="304" width="8" height="6" fill="#9a9a9a"/>
<rect x="2.4" y="2.4" width="1274.2" height="309.8" fill="none" stroke="#f4f4f4" stroke-width="1.2" opacity="0.7"/>
<polyline points="432.5,269.9 440.6,271.9 449,271.1 457.3,273.5 465.8,273.9 473.2,273.7 481.6,274.6 489.6,273.7 494.9,274.2 502.2,275.5 507.9,274.6 516.8,274.7 525.6,277.5 532.9,278.6 540.7,275.9 549.5,277.6 558.3,279.4 563.8,277.1 568.7,279.5 577,277.7 582.3,278.2 590.6,279.5 599.1,280.3 607.2,279.9 612.2,277.3 620.7,279.3 627,277.8 633.3,278.5 640.3,278.8 646,277.7 651.8,277.8 657.1,278.8 662.5,280 669.7,278.9 677.3,278.2 682.3,277.7 688.6,278.6 694.6,278.4 703,277.5 709.8,278.7 715.8,279.8 721.7,277.6 727.3,280.6 733.6,277.9 742.6,279.6 751.5,278.6 759.8,277.7 765.7,280.1 772.8,280.1 779.3,280.4 784.5,279.6 790.2,278.2 798.8,279 807.1,278.5 815.1,280.5 822.6,278.2 830.3,279.9 838.6,277.6 845.2,276 853.3,275.6 859.1,274.8 864.7,275.5 869.5,275.5" fill="none" stroke="#d4d4d4" stroke-width="8"/>
<path d="M136.7,238.6 l2.5,-2.4 l2.5,2.4 z M271.5,265.8 l2.5,-4.5 l2.5,4.5 z M303.4,261.5 l2.5,-2.2 l2.5,2.2 z M330.2,261.5 l2.5,-5 l2.5,5 z M383.5,268.3 l2.5,-2.3 l2.5,2.3 z M391.7,269.6 l2.5,-3.3 l2.5,3.3 z M467.5,277.8 l2.5,-2.3 l2.5,2.3 z M475.8,278.3 l2.5,-5.7 l2.5,5.7 z M494.2,279.4 l2.5,-4.4 l2.5,4.4 z M503.5,279.9 l2.5,-5.7 l2.5,5.7 z M549.6,282.4 l2.5,-4 l2.5,4 z M556.3,282.8 l2.5,-5.6 l2.5,5.6 z M579.6,283.1 l2.5,-5.3 l2.5,5.3 z M632.9,283.5 l2.5,-3.6 l2.5,3.6 z M642.6,283.5 l2.5,-5.3 l2.5,5.3 z M651,283.5 l2.5,-2.4 l2.5,2.4 z M737.7,283.6 l2.5,-5.3 l2.5,5.3 z M799.5,283.7 l2.5,-2.3 l2.5,2.3 z M833.4,282.7 l2.5,-2.9 l2.5,2.9 z M849.3,281.5 l2.5,-5.8 l2.5,5.8 z" fill="#fafafa" opacity="0.9"/>
<path d="M108.5,220 l2.5,-4.1 l2.5,4.1 z M118,231.4 l2.5,-2.7 l2.5,2.7 z M157.3,244.6 l2.5,-3.9 l2.5,3.9 z M176.8,247.5 l2.5,-4.5 l2.5,4.5 z M183.7,248.5 l2.5,-4.7 l2.5,4.7 z M190.4,249.4 l2.5,-6.6 l2.5,6.6 z M196.8,250.4 l2.5,-3.5 l2.5,3.5 z M206.9,251.8 l2.5,-6.1 l2.5,6.1 z M227.3,256 l2.5,-4.3 l2.5,4.3 z M237.3,258.2 l2.5,-5 l2.5,5 z M254.6,262.1 l2.5,-2.2 l2.5,2.2 z M261.5,263.6 l2.5,-3.4 l2.5,3.4 z M281.4,265.2 l2.5,-5.2 l2.5,5.2 z M288.5,263.4 l2.5,-2.6 l2.5,2.6 z M310.9,261.5 l2.5,-6.5 l2.5,6.5 z M318.5,261.5 l2.5,-3.8 l2.5,3.8 z M325.1,261.5 l2.5,-2.3 l2.5,2.3 z M339.2,261.5 l2.5,-6.9 l2.5,6.9 z M344.7,261.5 l2.5,-3.7 l2.5,3.7 z M360,262.6 l2.5,-2.9 l2.5,2.9 z M369.9,265 l2.5,-3.5 l2.5,3.5 z M376.7,266.6 l2.5,-4.9 l2.5,4.9 z M410.9,271.6 l2.5,-2.8 l2.5,2.8 z M419.6,272.6 l2.5,-2.8 l2.5,2.8 z M427.8,273.5 l2.5,-5.2 l2.5,5.2 z M437.4,274.5 l2.5,-5.2 l2.5,5.2 z M443.5,275.2 l2.5,-5.6 l2.5,5.6 z M454.3,276.4 l2.5,-5.8 l2.5,5.8 z M485.4,278.9 l2.5,-4 l2.5,4 z M521.6,280.9 l2.5,-6 l2.5,6 z M563.4,283 l2.5,-5.8 l2.5,5.8 z M573.9,283.1 l2.5,-2.7 l2.5,2.7 z M591.3,283.2 l2.5,-4.7 l2.5,4.7 z M600.9,283.3 l2.5,-5.4 l2.5,5.4 z M608.1,283.3 l2.5,-4.6 l2.5,4.6 z M613.1,283.4 l2.5,-3.8 l2.5,3.8 z M622,283.4 l2.5,-3.2 l2.5,3.2 z M658.6,283.5 l2.5,-3.3 l2.5,3.3 z M672.1,283.5 l2.5,-3.7 l2.5,3.7 z M678.1,283.5 l2.5,-6.6 l2.5,6.6 z M686.4,283.6 l2.5,-4.7 l2.5,4.7 z M692.4,283.6 l2.5,-6.7 l2.5,6.7 z M703.3,283.6 l2.5,-5.9 l2.5,5.9 z M711.3,283.6 l2.5,-4 l2.5,4 z M758.5,283.6 l2.5,-3.9 l2.5,3.9 z M767.2,283.6 l2.5,-3.5 l2.5,3.5 z M774.5,283.7 l2.5,-2.9 l2.5,2.9 z M783.4,283.7 l2.5,-2.3 l2.5,2.3 z M805.8,283.7 l2.5,-5.2 l2.5,5.2 z M859.2,280.8 l2.5,-2.9 l2.5,2.9 z" fill="#8e8e8e" opacity="0.8"/>
<polygon id="rc" points="100.5,314.6 100.5,219.2 108.1,220 114.1,219.5 122.8,233.5 128.4,234.9 135.9,237.3 144.9,240.8 151.7,244.2 159.2,243.3 165.4,244.8 170.6,245.9 178.5,246.5 187,249.3 194.2,249.6 199.6,248.4 208.6,250.4 214.4,253.4 222.5,252.7 228.7,254.5 234.8,255.1 241.9,257.6 248.4,258.7 253.8,259.4 262.4,263.6 269.6,263.2 275.1,264.4 281.4,262.8 287.4,261.7 293.1,262.1 300,260.6 306.4,260.6 314.6,259.9 319.8,260.4 326.3,261.4 331.6,261.7 336.6,260.6 343.3,259.9 352,261.1 357.6,261 365,261.3 370.3,264.4 378.3,265.9 384.9,267.6 390.9,269.7 399.9,269.4 404.9,269.7 413.1,270.3 418.5,270.5 426.4,272.7 432.5,273.4 440.6,275.4 449,274.6 457.3,277 465.8,277.4 473.2,277.2 481.6,278.1 489.6,277.2 494.9,277.7 502.2,279 507.9,278.1 516.8,278.2 525.6,281 532.9,282.1 540.7,279.4 549.5,281.1 558.3,282.9 563.8,280.6 568.7,283 577,281.2 582.3,281.7 590.6,283 599.1,283.8 607.2,283.4 612.2,280.8 620.7,282.8 627,281.3 633.3,282 640.3,282.3 646,281.2 651.8,281.3 657.1,282.3 662.5,283.5 669.7,282.4 677.3,281.7 682.3,281.2 688.6,282.1 694.6,281.9 703,281 709.8,282.2 715.8,283.3 721.7,281.1 727.3,284.1 733.6,281.4 742.6,283.1 751.5,282.1 759.8,281.2 765.7,283.6 772.8,283.6 779.3,283.9 784.5,283.1 790.2,281.7 798.8,282.5 807.1,282 815.1,284 822.6,281.7 830.3,283.4 838.6,281.1 845.2,279.5 853.3,279.1 859.1,278.3 864.7,279 869.5,279 869.5,314.6" fill="#c36a58"/>
<use href="#rc" filter="url(#nrl)"/>
<polygon points="100.5,314.6 100.5,273.1 120.2,269.6 131.5,272.5 151.4,275.8 170.7,272.8 183.8,277.1 199.3,275.6 219.7,275.3 235.6,280.5 253.5,281.5 267.3,280.7 287.9,279.7 303.2,284.8 316,284.5 334.4,282.9 355.1,286.7 367.5,288.5 387.2,287 398.7,289.2 415.5,289.9 427.5,289.3 446.4,291.6 459.3,290.3 474.8,291.8 495.5,295.4 506.8,294.4 519.3,296.3 535.5,297.4 555.5,298.7 568.3,294.8 586.9,297.1 605.6,297.3 620.8,299 635.5,298 650.5,298.9 662.4,297.8 679.2,298.9 699,297.4 719.5,299 734.3,298.3 749,298.8 760.5,300 775.1,295.6 787.1,297.2 800.9,299.7 815.7,300.1 829.5,297.2 849.9,299.8 869.5,298 869.5,314.6" fill="#a85545" opacity="0.95"/>
<rect x="160" y="246.5" width="20" height="7.7" fill="#c9742c" opacity="0.9"/>
<rect x="245" y="263.3" width="30" height="7.4" fill="#c9742c" opacity="0.9"/>
<rect x="340" y="262.1" width="36" height="11.2" fill="#c9742c" opacity="0.9"/>
<rect x="430" y="275.2" width="28" height="9" fill="#c9742c" opacity="0.9"/>
<rect x="500" y="280.1" width="16" height="7.6" fill="#c9742c" opacity="0.9"/>
<rect x="575" y="283.1" width="12" height="7.6" fill="#c9742c" opacity="0.9"/>
<rect x="700" y="283.6" width="14" height="8.9" fill="#c9742c" opacity="0.9"/>
<rect x="855" y="280.6" width="14" height="8.9" fill="#c9742c" opacity="0.9"/>
<polyline points="100.5,219.2 108.1,220 114.1,219.5 122.8,233.5 128.4,234.9 135.9,237.3 144.9,240.8 151.7,244.2 159.2,243.3 165.4,244.8 170.6,245.9 178.5,246.5 187,249.3 194.2,249.6 199.6,248.4 208.6,250.4 214.4,253.4 222.5,252.7 228.7,254.5 234.8,255.1 241.9,257.6 248.4,258.7 253.8,259.4 262.4,263.6 269.6,263.2 275.1,264.4 281.4,262.8 287.4,261.7 293.1,262.1 300,260.6 306.4,260.6 314.6,259.9 319.8,260.4 326.3,261.4 331.6,261.7 336.6,260.6 343.3,259.9 352,261.1 357.6,261 365,261.3 370.3,264.4 378.3,265.9 384.9,267.6 390.9,269.7 399.9,269.4 404.9,269.7 413.1,270.3 418.5,270.5 426.4,272.7 432.5,273.4 440.6,275.4 449,274.6 457.3,277 465.8,277.4 473.2,277.2 481.6,278.1 489.6,277.2 494.9,277.7 502.2,279 507.9,278.1 516.8,278.2 525.6,281 532.9,282.1 540.7,279.4 549.5,281.1 558.3,282.9 563.8,280.6 568.7,283 577,281.2 582.3,281.7 590.6,283 599.1,283.8 607.2,283.4 612.2,280.8 620.7,282.8 627,281.3 633.3,282 640.3,282.3 646,281.2 651.8,281.3 657.1,282.3 662.5,283.5 669.7,282.4 677.3,281.7 682.3,281.2 688.6,282.1 694.6,281.9 703,281 709.8,282.2 715.8,283.3 721.7,281.1 727.3,284.1 733.6,281.4 742.6,283.1 751.5,282.1 759.8,281.2 765.7,283.6 772.8,283.6 779.3,283.9 784.5,283.1 790.2,281.7 798.8,282.5 807.1,282 815.1,284 822.6,281.7 830.3,283.4 838.6,281.1 845.2,279.5 853.3,279.1 859.1,278.3 864.7,279 869.5,279" fill="none" stroke="#e29c8a" stroke-width="2.5" opacity="0.8"/>
<rect x="100.5" y="219" width="16" height="95" fill="#a9774f"/>
<rect x="100.5" y="299" width="224" height="15" fill="#8a6444"/>
<path d="M1031,268.4 l2,-2.7 l3,2.7 z M1045.4,268.4 l2,-7.4 l3,7.4 z M1052.7,268.4 l2,-8.3 l3,8.3 z M1127,253 l2,-9.7 l3,9.7 z M1132.9,253 l2,-11 l3,11 z M1139.4,253 l2,-12 l3,12 z M1168.1,236.4 l2,-4.1 l3,4.1 z M1181,236.4 l2,-10.6 l3,10.6 z M1192.7,236.4 l2,-14.7 l3,14.7 z M1202.5,221 l2,-0 l3,0 z M1216.2,221 l2,-9.9 l3,9.9 z M1222.3,221 l2,-15 l3,15 z M1244.9,204.5 l2,-7.4 l3,7.4 z M1262.4,189 l2,-2.7 l3,2.7 z" fill="#fafafa" opacity="0.85"/>
<path d="M1024,268.4 L1028.2,264.1 L1033.1,268.4 z M1032,268.4 L1035.5,261.1 L1039.5,268.4 z M1038.7,268.4 L1042.7,258.1 L1047.4,268.4 z M1046.4,268.4 L1050.2,257.1 L1054.6,268.4 z M1053.7,268.4 L1057.5,258.4 L1061.9,268.4 z M1060.9,268.4 L1064.7,252.7 L1069.1,268.4 z M1068.1,268.4 L1072.2,254.1 L1077,268.4 z M1090.5,253 L1094.3,250.2 L1098.8,253 z M1097.8,253 L1100.8,247.5 L1104.3,253 z M1103.6,253 L1106.7,243.9 L1110.4,253 z M1109.6,253 L1112.7,241.1 L1116.3,253 z M1115.5,253 L1119,243.3 L1123,253 z M1122.1,253 L1125,239.9 L1128.4,253 z M1127.7,253 L1130.8,238.3 L1134.4,253 z M1133.7,253 L1137.1,237 L1141.2,253 z M1140.3,253 L1143.5,234.8 L1147.3,253 z M1152,236.4 L1154.7,234 L1157.9,236.4 z M1157.2,236.4 L1159.8,230.4 L1162.9,236.4 z M1162.2,236.4 L1165.8,230.2 L1169.9,236.4 z M1169,236.4 L1172.1,224.4 L1175.7,236.4 z M1174.9,236.4 L1178.6,222.1 L1182.8,236.4 z M1181.9,236.4 L1185.4,221.8 L1189.4,236.4 z M1188.5,236.4 L1191.1,217 L1194,236.4 z M1196.1,221 L1199.9,220 L1204.4,221 z M1203.5,221 L1206.7,211.2 L1210.5,221 z M1209.7,221 L1213.6,207.6 L1218.2,221 z M1217.2,221 L1220.3,201.3 L1223.9,221 z M1226.9,204.5 L1229.7,199.2 L1233,204.5 z M1232.3,204.5 L1235.5,200.1 L1239.2,204.5 z M1238.4,204.5 L1242.3,194.3 L1246.8,204.5 z M1245.9,204.5 L1248.6,187.5 L1251.7,204.5 z M1251,204.5 L1254.6,187.5 L1258.9,204.5 z M1255.8,189 L1259.7,184.6 L1264.3,189 z M1263.3,189 L1265.8,178.6 L1268.7,189 z M923.7,268.4 l3,-3.9 l3,3.9 z M935.2,268.4 l3,-5.4 l3,5.4 z M1079,253 l3,-3.3 l3,3.3 z" fill="#8e8e8e" opacity="0.85"/>
<polygon id="gc" points="869.5,314.6 869.5,267.4 873.7,266.7 878.8,266.9 882.8,268.4 890.1,267.2 897,268.8 901.1,267.9 907.5,266.7 915.1,268.6 921.2,267.8 928.6,266.4 936.1,267.8 941.3,267 947.4,266.5 954.7,267.4 962.3,269.1 969.5,266.5 974.5,268.1 982.3,268.1 987.7,268.6 993.5,268 999.4,269.1 1005.8,266.5 1012.4,267.4 1017.1,267.7 1022.1,269 1027,267.8 1031,267.1 1037.6,267.7 1044.3,267.9 1050.7,267 1058.4,268.2 1062.6,268.7 1067.2,267.4 1076,267.4 1076,252 1083.6,251.3 1088.8,252.3 1095.5,252.2 1102.3,253.8 1106.6,252 1113.8,253.2 1121.6,251.8 1126.6,252.8 1133.9,253.2 1142.5,252 1142.5,235.4 1147,236.3 1152,234.3 1156,235.2 1161.5,235.8 1167.3,235.7 1173.9,234.7 1181.1,236.2 1190,235.4 1190,220 1196.3,220.4 1203.6,220.8 1208.7,221.4 1213.4,219.6 1220.5,220 1220.5,203.5 1226.3,202.8 1233.9,204.1 1238,203.3 1243.4,203.1 1252.5,203.5 1252.5,188 1257.4,187.1 1264.9,188.5 1269,188 1269,314.6" fill="#9aa070"/>
<use href="#gc" filter="url(#ngl)"/>
<use href="#gc" filter="url(#ngd)"/>
<polygon points="869.5,291 1076,291 1076,306 1269,306 1269,313 869.5,313" fill="#80855a" opacity="0.5"/>
<polygon points="1269,314 1269,190 1272,176 1274.5,164 1277.5,163 1277.5,314" fill="#959595" opacity="0.9"/>
<line x1="873.5" y1="1.5" x2="873.5" y2="267" stroke="#8e8e8e" stroke-width="3"/>
<line x1="0" y1="40.5" x2="13.5" y2="40.5" stroke="#111" stroke-width="3"/>
<line x1="0" y1="155.5" x2="13.5" y2="155.5" stroke="#111" stroke-width="3"/>
<line x1="0" y1="271" x2="13.5" y2="271" stroke="#111" stroke-width="3"/>
<line x1="266" y1="314.6" x2="266" y2="303.6" stroke="#1a1208" stroke-width="2.5"/>
<line x1="532" y1="314.6" x2="532" y2="303.6" stroke="#1a1208" stroke-width="2.5"/>
<line x1="798" y1="314.6" x2="798" y2="303.6" stroke="#1a1208" stroke-width="2.5"/>
<line x1="1064" y1="314.6" x2="1064" y2="303.6" stroke="#1a1208" stroke-width="2.5"/>
<rect x="-2.6" y="-2.6" width="1284.2" height="319.8" fill="none" stroke="#ffffff" stroke-width="1.6"/>
<rect x="0" y="0" width="1279" height="314.6" fill="none" stroke="#111" stroke-width="3"/>
</g>
<g transform="translate(1824.5,629)">
<rect x="0" y="0" width="1279" height="314.6" fill="#e4e4e4"/>
<polygon points="103.5,0 319.5,0 319.5,43 311.5,43 311.5,50 215.5,50 215.5,59 207.5,59 207.5,67 199.5,67 199.5,91 191.5,91 191.5,82.5 111.5,82.5 111.5,91 103.5,91" fill="#cfcfcf"/>
<polygon points="207.5,219 311.5,219 311.5,235 319.5,235 319.5,262 207.5,262" fill="#cfcfcf"/>
<rect x="1.5" y="0" width="102" height="35" fill="#cfcfcf"/>
<rect x="319.5" y="0" width="958" height="10.5" fill="#d0d0d0"/>
<rect x="103.5" y="0" width="40" height="27" fill="#bbbbbb"/>
<rect x="119.5" y="0" width="24" height="12" fill="#cfcfcf"/>
<rect x="199.5" y="0" width="96" height="10.5" fill="#bbbbbb"/>
<rect x="199.5" y="0" width="64" height="19" fill="#bbbbbb"/>
<rect x="207.5" y="0" width="40" height="27" fill="#bbbbbb"/>
<rect x="16" y="303" width="7" height="9" fill="#8a8a8a"/>
<rect x="2.4" y="2.4" width="1274.2" height="309.8" fill="none" stroke="#f4f4f4" stroke-width="1.2" opacity="0.7"/>
<polyline points="442,268 448,271.4 455.7,269.5 462.4,272.1 471.2,271.2 479.8,273.9 485.9,273.6 494.3,273.1 502.1,274.6 507.3,274 514,274 522.8,274.9 528.7,276.4 535.8,275.9 542.1,276.9 550.8,276.1 559.5,279.4 567.3,279.1 573.8,279.7 581.8,278.9 588.6,277.5 596.4,279.2 601.3,277.9 608.5,277.7 613.9,277.7 618.9,277.6 625.4,278.9 633,278.4 638.5,280.3 646,279.6 653.8,278.4 661.2,278.4 668.8,280.1 673.8,280 679.2,277.5 684.4,279.2 692.9,280.4 698.5,278.8 707.3,280.3 715.7,278.3 721.8,278 727.8,278.8 736,279.6 741.6,278.1 748.4,280.4 755.3,280 763.1,280.3 770.1,278.7 776.9,280.1 783,278.2 791.4,279.1 799,278.1 804.1,278.3 810.8,277.7 816.8,280.6 823.6,277.6 831.8,278.4 837.5,279.1 845.1,277.5 853,278.6 859.4,276.9 864.3,276.8 870.4,274.9 878.5,271 878.5,271.5" fill="none" stroke="#d4d4d4" stroke-width="8"/>
<path d="M187.5,244.1 l2.5,-4.6 l2.5,4.6 z M202.8,247.6 l2.5,-4.3 l2.5,4.3 z M210.4,249.4 l2.5,-3.6 l2.5,3.6 z M221,251.7 l2.5,-4.7 l2.5,4.7 z M279.4,263.5 l2.5,-3.6 l2.5,3.6 z M323.9,261.7 l2.5,-5.8 l2.5,5.8 z M330.7,260 l2.5,-3.2 l2.5,3.2 z M347,260 l2.5,-5.9 l2.5,5.9 z M453.3,275.1 l2.5,-5.7 l2.5,5.7 z M537.8,281.1 l2.5,-3.5 l2.5,3.5 z M547.5,281.7 l2.5,-2.8 l2.5,2.8 z M581.7,282.8 l2.5,-5.8 l2.5,5.8 z M733.9,283.6 l2.5,-3.3 l2.5,3.3 z M746.5,283.6 l2.5,-4.7 l2.5,4.7 z M772.5,283.6 l2.5,-5.2 l2.5,5.2 z M782.6,283.7 l2.5,-2.9 l2.5,2.9 z M792.5,283.7 l2.5,-5 l2.5,5 z M811.6,283.7 l2.5,-2.1 l2.5,2.1 z M822.6,283.7 l2.5,-3.4 l2.5,3.4 z M837.4,283.1 l2.5,-4.5 l2.5,4.5 z" fill="#fafafa" opacity="0.9"/>
<path d="M130.8,229.1 l2.5,-2.8 l2.5,2.8 z M145.6,234 l2.5,-6.8 l2.5,6.8 z M150.9,235.8 l2.5,-5.8 l2.5,5.8 z M174.2,241.1 l2.5,-6.4 l2.5,6.4 z M182.4,243 l2.5,-2.1 l2.5,2.1 z M239.7,255.5 l2.5,-4.6 l2.5,4.6 z M250.2,257.6 l2.5,-3.3 l2.5,3.3 z M256.9,259 l2.5,-6.1 l2.5,6.1 z M265.1,260.6 l2.5,-4.6 l2.5,4.6 z M274.3,262.5 l2.5,-3 l2.5,3 z M284.5,264.6 l2.5,-3 l2.5,3 z M292.9,266.3 l2.5,-4.1 l2.5,4.1 z M299.8,266 l2.5,-3.6 l2.5,3.6 z M308.6,264.6 l2.5,-4.9 l2.5,4.9 z M314.6,263.7 l2.5,-5.8 l2.5,5.8 z M355,260 l2.5,-6.8 l2.5,6.8 z M364,260 l2.5,-3.4 l2.5,3.4 z M369.2,260 l2.5,-6.9 l2.5,6.9 z M409.5,270.3 l2.5,-6.5 l2.5,6.5 z M424.6,271.9 l2.5,-4.6 l2.5,4.6 z M431.9,272.7 l2.5,-2.2 l2.5,2.2 z M444.5,274.1 l2.5,-4 l2.5,4 z M465.4,276.4 l2.5,-4.5 l2.5,4.5 z M474.3,277.2 l2.5,-5.9 l2.5,5.9 z M482.6,277.7 l2.5,-4 l2.5,4 z M491.4,278.3 l2.5,-2.9 l2.5,2.9 z M500.3,278.8 l2.5,-6.9 l2.5,6.9 z M511,279.5 l2.5,-2.2 l2.5,2.2 z M517.1,279.9 l2.5,-4.1 l2.5,4.1 z M524.7,280.3 l2.5,-3.5 l2.5,3.5 z M556.7,282.3 l2.5,-6.2 l2.5,6.2 z M561.8,282.5 l2.5,-4.6 l2.5,4.6 z M568.6,282.6 l2.5,-4.9 l2.5,4.9 z M593.4,282.9 l2.5,-2.6 l2.5,2.6 z M604,283.1 l2.5,-4.6 l2.5,4.6 z M614.8,283.2 l2.5,-2.4 l2.5,2.4 z M624,283.3 l2.5,-2.6 l2.5,2.6 z M630.5,283.4 l2.5,-3.7 l2.5,3.7 z M643.9,283.5 l2.5,-5.7 l2.5,5.7 z M655.5,283.5 l2.5,-3.9 l2.5,3.9 z M676.3,283.5 l2.5,-3.9 l2.5,3.9 z M697,283.6 l2.5,-2.2 l2.5,2.2 z M713.6,283.6 l2.5,-5.4 l2.5,5.4 z M740.9,283.6 l2.5,-2.2 l2.5,2.2 z M755.4,283.6 l2.5,-4.9 l2.5,4.9 z M801.9,283.7 l2.5,-2.4 l2.5,2.4 z M816.9,283.7 l2.5,-5.3 l2.5,5.3 z M831.5,283.6 l2.5,-3.2 l2.5,3.2 z M842.8,282.7 l2.5,-6.2 l2.5,6.2 z M866.1,280.4 l2.5,-6.1 l2.5,6.1 z M873.6,277.8 l2.5,-2.5 l2.5,2.5 z" fill="#8e8e8e" opacity="0.8"/>
<polygon id="rd" points="103.5,314.6 103.5,218.7 110.7,222.6 116.3,222.4 121.3,223.7 126.3,225.5 133.3,230.5 141.1,231.2 147.7,234.4 154,234.1 162.5,237.8 167.8,237.3 173.1,241.3 178.5,241.5 187.4,241.6 194,244.6 202.7,245.6 208.7,247.2 213.8,249.7 222.1,250.7 227.2,252.6 235.2,254.1 241.5,255.9 249,256.7 256.2,257 263,260.2 270.8,260.3 279.1,263.6 284.2,262.4 290,263.1 298.1,265.7 305.3,265.7 311.7,262.2 317.1,261.9 325.5,260.6 330.6,258.8 335.7,259.4 341.1,258 348.7,260.1 356.2,258.3 363.8,258.3 368.8,258.3 376.6,259.4 382.3,260.1 390.7,262 399.6,267.4 404.8,268.8 413.3,270 420.5,270.4 426.6,270.5 433.2,272 442,271.5 448,274.9 455.7,273 462.4,275.6 471.2,274.7 479.8,277.4 485.9,277.1 494.3,276.6 502.1,278.1 507.3,277.5 514,277.5 522.8,278.4 528.7,279.9 535.8,279.4 542.1,280.4 550.8,279.6 559.5,282.9 567.3,282.6 573.8,283.2 581.8,282.4 588.6,281 596.4,282.7 601.3,281.4 608.5,281.2 613.9,281.2 618.9,281.1 625.4,282.4 633,281.9 638.5,283.8 646,283.1 653.8,281.9 661.2,281.9 668.8,283.6 673.8,283.5 679.2,281 684.4,282.7 692.9,283.9 698.5,282.3 707.3,283.8 715.7,281.8 721.8,281.5 727.8,282.3 736,283.1 741.6,281.6 748.4,283.9 755.3,283.5 763.1,283.8 770.1,282.2 776.9,283.6 783,281.7 791.4,282.6 799,281.6 804.1,281.8 810.8,281.2 816.8,284.1 823.6,281.1 831.8,281.9 837.5,282.6 845.1,281 853,282.1 859.4,280.4 864.3,280.3 870.4,278.4 878.5,274.5 878.5,275 878.5,314.6" fill="#c36a58"/>
<use href="#rd" filter="url(#nrl)"/>
<polygon points="103.5,314.6 103.5,269.7 115.1,272.7 126.8,271.2 144.7,274.5 163.5,273 176.3,275.7 195.3,277.3 213.6,276.7 231.7,280.2 248.8,277.3 267.9,277.8 279.2,279.8 294,284 312.3,282.3 329,283.1 348.8,285.3 363.5,287.7 382.5,286.1 402.9,285.5 422.5,288.5 438.4,291.6 453.7,290.2 467.2,292.2 485.2,293.1 498,294.9 513.9,291.9 527.1,292.7 539.7,295.4 558.1,297.3 578.6,299.3 595.8,299 615.7,297.6 635,298.3 653.5,299.5 673.4,298 685.3,295.8 703.3,298.5 722.6,296.4 741.7,300.5 757.5,296 775.3,295.9 794.1,299.6 809,300 823.8,299.6 837.8,299.1 850.1,297.2 865.1,299.9 878.5,298 878.5,314.6" fill="#a85545" opacity="0.95"/>
<rect x="170" y="242.7" width="22" height="7.6" fill="#c9742c" opacity="0.9"/>
<rect x="280" y="266.7" width="30" height="9.8" fill="#c9742c" opacity="0.9"/>
<rect x="322" y="260" width="70" height="12.1" fill="#c9742c" opacity="0.9"/>
<rect x="400" y="272.5" width="60" height="12.9" fill="#c9742c" opacity="0.9"/>
<rect x="590" y="283" width="16" height="9.8" fill="#c9742c" opacity="0.9"/>
<rect x="630" y="283.5" width="14" height="8" fill="#c9742c" opacity="0.9"/>
<rect x="866" y="278.3" width="12" height="11.7" fill="#c9742c" opacity="0.9"/>
<polyline points="103.5,218.7 110.7,222.6 116.3,222.4 121.3,223.7 126.3,225.5 133.3,230.5 141.1,231.2 147.7,234.4 154,234.1 162.5,237.8 167.8,237.3 173.1,241.3 178.5,241.5 187.4,241.6 194,244.6 202.7,245.6 208.7,247.2 213.8,249.7 222.1,250.7 227.2,252.6 235.2,254.1 241.5,255.9 249,256.7 256.2,257 263,260.2 270.8,260.3 279.1,263.6 284.2,262.4 290,263.1 298.1,265.7 305.3,265.7 311.7,262.2 317.1,261.9 325.5,260.6 330.6,258.8 335.7,259.4 341.1,258 348.7,260.1 356.2,258.3 363.8,258.3 368.8,258.3 376.6,259.4 382.3,260.1 390.7,262 399.6,267.4 404.8,268.8 413.3,270 420.5,270.4 426.6,270.5 433.2,272 442,271.5 448,274.9 455.7,273 462.4,275.6 471.2,274.7 479.8,277.4 485.9,277.1 494.3,276.6 502.1,278.1 507.3,277.5 514,277.5 522.8,278.4 528.7,279.9 535.8,279.4 542.1,280.4 550.8,279.6 559.5,282.9 567.3,282.6 573.8,283.2 581.8,282.4 588.6,281 596.4,282.7 601.3,281.4 608.5,281.2 613.9,281.2 618.9,281.1 625.4,282.4 633,281.9 638.5,283.8 646,283.1 653.8,281.9 661.2,281.9 668.8,283.6 673.8,283.5 679.2,281 684.4,282.7 692.9,283.9 698.5,282.3 707.3,283.8 715.7,281.8 721.8,281.5 727.8,282.3 736,283.1 741.6,281.6 748.4,283.9 755.3,283.5 763.1,283.8 770.1,282.2 776.9,283.6 783,281.7 791.4,282.6 799,281.6 804.1,281.8 810.8,281.2 816.8,284.1 823.6,281.1 831.8,281.9 837.5,282.6 845.1,281 853,282.1 859.4,280.4 864.3,280.3 870.4,278.4 878.5,274.5 878.5,275" fill="none" stroke="#e29c8a" stroke-width="2.5" opacity="0.8"/>
<rect x="103.5" y="235" width="8" height="64" fill="#c9742c"/>
<rect x="111.5" y="299" width="208" height="15" fill="#8a6444"/>
<rect x="103.5" y="299" width="8" height="15" fill="#b85070"/>
<path d="M1017.8,268.4 l2,-0.8 l3,0.8 z M1022.7,268.4 l2,-1.8 l3,1.8 z M1055.2,268.4 l2,-10.1 l3,10.1 z M1060.3,268.4 l2,-14.4 l3,14.4 z M1090.4,253 l2,-0.3 l3,0.3 z M1103.9,253 l2,-3.8 l3,3.8 z M1110.9,253 l2,-5.8 l3,5.8 z M1156.8,236.4 l2,-5.6 l3,5.6 z M1205.8,221 l2,-4.5 l3,4.5 z M1217.6,221 l2,-7.2 l3,7.2 z M1229.1,221 l2,-12.6 l3,12.6 z M1250.6,204.5 l2,-4.7 l3,4.7 z M1263,204.5 l2,-13.1 l3,13.1 z M1271,188 l2,-2.6 l3,2.6 z M1278,188 l2,-4.1 l3,4.1 z" fill="#fafafa" opacity="0.85"/>
<path d="M1012,268.4 L1015.5,266.4 L1019.5,268.4 z M1018.7,268.4 L1021.1,265.1 L1023.9,268.4 z M1023.3,268.4 L1026.9,263.8 L1031,268.4 z M1030.1,268.4 L1033.4,258.4 L1037.3,268.4 z M1036.5,268.4 L1039.4,255.8 L1042.9,268.4 z M1042.1,268.4 L1045.8,257.6 L1050,268.4 z M1049.1,268.4 L1052.7,254.8 L1057,268.4 z M1056.1,268.4 L1058.6,249.4 L1061.5,268.4 z M1060.9,268.4 L1064.7,250.9 L1069.1,268.4 z M1084.5,253 L1088.1,251.6 L1092.2,253 z M1091.3,253 L1095.4,248.2 L1100.3,253 z M1099.2,253 L1102.1,247.3 L1105.4,253 z M1104.6,253 L1108.4,244.7 L1112.8,253 z M1111.9,253 L1115.2,239.9 L1119.2,253 z M1118.4,253 L1120.8,239.5 L1123.6,253 z M1123,253 L1125.4,236.9 L1128.3,253 z M1127.7,253 L1131.9,237.5 L1136.8,253 z M1145.9,236.4 L1149.4,231.4 L1153.6,236.4 z M1152.7,236.4 L1155.1,228.3 L1158,236.4 z M1157.4,236.4 L1160.4,227.4 L1163.9,236.4 z M1163.1,236.4 L1166.8,226.9 L1171.1,236.4 z M1170.2,236.4 L1174.1,222.8 L1178.7,236.4 z M1177.8,236.4 L1180.8,217.4 L1184.3,236.4 z M1193,221 L1196.8,219.3 L1201.2,221 z M1200.3,221 L1203.6,214.4 L1207.5,221 z M1206.7,221 L1209.9,213.1 L1213.7,221 z M1212.9,221 L1215.7,211 L1219,221 z M1218.3,221 L1221.6,205.2 L1225.4,221 z M1224.6,221 L1227.3,204.3 L1230.5,221 z M1229.8,221 L1233.1,203.9 L1236.9,221 z M1237.7,204.5 L1241.3,201.5 L1245.4,204.5 z M1244.5,204.5 L1248.2,197.7 L1252.4,204.5 z M1251.5,204.5 L1254.6,191.7 L1258.3,204.5 z M1257.5,204.5 L1260.8,187.1 L1264.6,204.5 z M1267,188 L1269.4,183.8 L1272.2,188 z M1271.6,188 L1275.5,181.8 L1279.9,188 z M913.1,268.4 l3,-4.2 l3,4.2 z M941.2,268.4 l3,-2.7 l3,2.7 z M951.8,268.4 l3,-4.5 l3,4.5 z M973.3,268.4 l3,-6 l3,6 z" fill="#8e8e8e" opacity="0.85"/>
<polygon id="gd" points="878.5,314.6 878.5,267.4 884,266.2 891.7,267 899.4,269.2 903.6,268.9 909,268.8 916.1,267 923.3,266.5 930.9,268 938.8,267.6 945.6,267.1 950.7,266.3 957.6,269.1 963.3,266.4 967.6,266.8 974.6,267.1 980.4,268.8 987.1,266.3 994.8,268.3 999.5,266.3 1007,267 1013.1,267.1 1020.1,267.5 1026.7,268.9 1031.2,267.3 1038.1,268.7 1045.5,267.4 1052.3,267.9 1059.7,266.7 1064,267.4 1064,252 1068.7,251.8 1075.6,252.6 1080.7,250.9 1086.3,253.7 1090.7,253.5 1096.3,252.6 1101.7,253.6 1108.9,252.8 1114.9,252.6 1119.9,252.7 1127.5,251 1133.3,252.3 1136.5,252 1136.5,235.4 1144.5,235.9 1150.3,234.5 1155.5,236.8 1162,236.5 1169.6,236.9 1177.2,237.1 1183.5,235.4 1183.5,220 1190.3,220.3 1194.4,221.6 1200.3,219.7 1205.8,221.1 1212.9,219.7 1217.5,220 1222,220.6 1231,220 1231,203.5 1236.6,202.7 1244.4,202.8 1249.1,203.9 1255.8,203.4 1260.3,203.2 1264.5,203.5 1264.5,187 1272.4,186.5 1277,187 1277,314.6" fill="#9aa070"/>
<use href="#gd" filter="url(#ngl)"/>
<use href="#gd" filter="url(#ngd)"/>
<polygon points="878.5,291 1105,291 1105,307.5 1276,307.5 1276,313 878.5,313" fill="#80855a" opacity="0.5"/>
<line x1="876.5" y1="1.5" x2="876.5" y2="267" stroke="#8e8e8e" stroke-width="2.2"/>
<line x1="873" y1="3" x2="873" y2="267" stroke="#f0f0f0" stroke-width="2.5"/>
<line x1="1272.5" y1="3" x2="1272.5" y2="180" stroke="#f2f2f2" stroke-width="2.5"/>
<line x1="0" y1="40.5" x2="13.5" y2="40.5" stroke="#111" stroke-width="3"/>
<line x1="0" y1="155.5" x2="13.5" y2="155.5" stroke="#111" stroke-width="3"/>
<line x1="0" y1="271" x2="13.5" y2="271" stroke="#111" stroke-width="3"/>
<line x1="266" y1="314.6" x2="266" y2="303.6" stroke="#1a1208" stroke-width="2.5"/>
<line x1="532" y1="314.6" x2="532" y2="303.6" stroke="#1a1208" stroke-width="2.5"/>
<line x1="798" y1="314.6" x2="798" y2="303.6" stroke="#1a1208" stroke-width="2.5"/>
<line x1="1064" y1="314.6" x2="1064" y2="303.6" stroke="#1a1208" stroke-width="2.5"/>
<rect x="-2.6" y="-2.6" width="1284.2" height="319.8" fill="none" stroke="#ffffff" stroke-width="1.6"/>
<rect x="0" y="0" width="1279" height="314.6" fill="none" stroke="#111" stroke-width="3"/>
</g>
<g transform="translate(1030,1255.3)">
<rect x="0" y="0" width="1279" height="314.6" fill="#e4e4e4"/>
<polygon points="98.5,5 321.6,5 321.6,32 314,32 314,48.5 225,48.5 225,57 210,57 210,65 201.7,65 201.7,88 194,88 194,80 98.5,80" fill="#cfcfcf"/>
<polygon points="209,224.4 314,224.4 314,240 321,240 321,270 201.7,270 201.7,232 209,232" fill="#cfcfcf"/>
<rect x="1.5" y="5" width="97" height="27" fill="#cfcfcf"/>
<rect x="106" y="5" width="40" height="19" fill="#bbbbbb"/>
<rect x="122" y="5" width="24" height="6" fill="#cfcfcf"/>
<rect x="210" y="5" width="56" height="12" fill="#bbbbbb"/>
<rect x="210" y="5" width="40" height="19" fill="#bbbbbb"/>
<rect x="202" y="1.5" width="104" height="4" fill="#bbbbbb"/>
<rect x="98.5" y="8" width="6" height="40" fill="#dadada"/>
<rect x="100.5" y="224" width="4.5" height="90" fill="#f0f0f0"/>
<rect x="2.4" y="2.4" width="1274.2" height="309.8" fill="none" stroke="#f4f4f4" stroke-width="1.2" opacity="0.7"/>
<polyline points="436.3,275.7 442.3,277.9 449.9,277.7 455.3,277 463.8,277.1 470.9,278.7 476.7,279 483.6,279.4 489.4,277.8 495.8,277.3 502.5,277.8 509,279.2 515.3,276.6 523.4,277.8 528.4,278.8 536.3,278.5 544.7,277.3 553.1,277.6 561.6,279.6 568.8,277.7 576.8,278.7 583.8,276.7 590.2,278.6 595.2,277.7 603.9,278.7 609.9,276.8 617.2,278.4 623.3,278.1 632.4,278.5 639.6,276.6 646.5,276.5 655.4,278.1 662.8,278.7 667.9,279.2 675.7,276.8 684.5,279.4 693.5,276.9 702.3,279.2 708.3,276.9 716,276.9 723.2,279.3 729.8,277.8 736.4,277.2 741.6,278.6 749.9,280 755.3,277.9 763.6,277.7 771.7,279.6 780.2,278.4 788.2,278.9 793.7,277.1 801.7,277.3 809.8,278.7 817.7,277.2 825.7,278.1 831,275.2 839.2,273.2 846.9,266.9 852.9,268.5 860.8,268.6 868.4,268.1 874.3,267.7 879.6,266.4 886.4,267.1 895.5,267.4 900.8,269.4 905,276.2" fill="none" stroke="#d4d4d4" stroke-width="8"/>
<path d="M131.7,234 l2.5,-2.2 l2.5,2.2 z M199.7,249.5 l2.5,-4.5 l2.5,4.5 z M224.6,257 l2.5,-5 l2.5,5 z M271.4,266.6 l2.5,-3 l2.5,3 z M277,266.9 l2.5,-4.1 l2.5,4.1 z M299,268 l2.5,-2.9 l2.5,2.9 z M378.5,271.4 l2.5,-2.3 l2.5,2.3 z M405.2,272.6 l2.5,-2.5 l2.5,2.5 z M417.4,273.1 l2.5,-5.2 l2.5,5.2 z M484.7,282.5 l2.5,-3 l2.5,3 z M502.3,282.5 l2.5,-2.7 l2.5,2.7 z M552.4,282.5 l2.5,-3 l2.5,3 z M601.7,282.5 l2.5,-3 l2.5,3 z M611.4,282.5 l2.5,-4.7 l2.5,4.7 z M672.3,282.6 l2.5,-2.2 l2.5,2.2 z M691.9,282.7 l2.5,-2.8 l2.5,2.8 z M819.7,281.4 l2.5,-5.8 l2.5,5.8 z M829.2,281.2 l2.5,-2.6 l2.5,2.6 z M873.5,271.5 l2.5,-2.8 l2.5,2.8 z M891.7,271.5 l2.5,-5 l2.5,5 z" fill="#fafafa" opacity="0.9"/>
<path d="M139,234.8 l2.5,-5.7 l2.5,5.7 z M144.3,236.1 l2.5,-3.2 l2.5,3.2 z M150.5,237.6 l2.5,-7 l2.5,7 z M157.5,239.3 l2.5,-2.1 l2.5,2.1 z M167,241.6 l2.5,-6.9 l2.5,6.9 z M190.9,247.4 l2.5,-2.4 l2.5,2.4 z M212.6,253.3 l2.5,-2.4 l2.5,2.4 z M217.7,254.9 l2.5,-2.7 l2.5,2.7 z M232.2,259.3 l2.5,-5.1 l2.5,5.1 z M263.3,266.2 l2.5,-2.6 l2.5,2.6 z M308.6,268.4 l2.5,-4.6 l2.5,4.6 z M335.9,269.6 l2.5,-6.1 l2.5,6.1 z M344.4,269.9 l2.5,-6.9 l2.5,6.9 z M369.9,271.1 l2.5,-6.1 l2.5,6.1 z M386.7,271.8 l2.5,-2.2 l2.5,2.2 z M396.8,272.2 l2.5,-4.4 l2.5,4.4 z M411.4,272.9 l2.5,-5.2 l2.5,5.2 z M435,279.2 l2.5,-4.9 l2.5,4.9 z M443.7,282.5 l2.5,-3.3 l2.5,3.3 z M459.9,282.5 l2.5,-4.9 l2.5,4.9 z M466.4,282.5 l2.5,-6.4 l2.5,6.4 z M493.4,282.5 l2.5,-3 l2.5,3 z M512,282.5 l2.5,-6.4 l2.5,6.4 z M528.1,282.5 l2.5,-2.8 l2.5,2.8 z M536.1,282.5 l2.5,-5 l2.5,5 z M544.1,282.5 l2.5,-3.5 l2.5,3.5 z M560.7,282.5 l2.5,-5.7 l2.5,5.7 z M569.4,282.5 l2.5,-2.7 l2.5,2.7 z M580.3,282.5 l2.5,-4.8 l2.5,4.8 z M586.3,282.5 l2.5,-2.9 l2.5,2.9 z M596.5,282.5 l2.5,-2.5 l2.5,2.5 z M617.4,282.5 l2.5,-5.9 l2.5,5.9 z M628.4,282.5 l2.5,-4.3 l2.5,4.3 z M636.3,282.5 l2.5,-2.9 l2.5,2.9 z M641.8,282.5 l2.5,-3.8 l2.5,3.8 z M702,282.8 l2.5,-5.1 l2.5,5.1 z M712.3,282.8 l2.5,-4.3 l2.5,4.3 z M721.3,282.8 l2.5,-3 l2.5,3 z M736.8,282.9 l2.5,-2.2 l2.5,2.2 z M759.9,283 l2.5,-5.4 l2.5,5.4 z M767.8,282.8 l2.5,-3.1 l2.5,3.1 z M774.4,282.6 l2.5,-3.9 l2.5,3.9 z M783.5,282.4 l2.5,-4.5 l2.5,4.5 z M794.1,282.1 l2.5,-2.5 l2.5,2.5 z M846.7,271.5 l2.5,-5.6 l2.5,5.6 z M852.9,271.5 l2.5,-3.1 l2.5,3.1 z M863.2,271.5 l2.5,-2.5 l2.5,2.5 z M878.5,271.5 l2.5,-6.4 l2.5,6.4 z M884.6,271.5 l2.5,-2 l2.5,2 z M897.9,271.5 l2.5,-3.9 l2.5,3.9 z" fill="#8e8e8e" opacity="0.8"/>
<polygon id="re" points="105,314.6 105,215.7 113.9,215.9 121.9,233.2 129.9,232.2 136.3,234.2 145.3,235.9 152.4,236.7 159,239.4 165.7,240.4 173.3,242.5 178.4,242.5 186.2,245.5 194.7,245.9 200.5,248.7 208.6,250.1 216.7,253.3 222.9,256.5 228.2,258.5 234.4,258.6 240.2,260.7 248.6,262.5 255.8,264.6 262,264 269.8,265.3 276.7,266.2 282,267.1 290.7,265.8 299,267.6 305.2,266.5 310.4,267.2 317.2,267.7 324.1,268.2 329.6,267.4 336.8,268.5 342.4,268.1 351.5,270.2 359.4,269.1 366.1,270.5 373.3,270.7 378.4,271.1 384.1,270.1 391.2,272.4 397.8,271.7 403.6,272.9 409.6,271.9 417.3,272.8 424.1,273.2 429,276.8 436.3,279.2 442.3,281.4 449.9,281.2 455.3,280.5 463.8,280.6 470.9,282.2 476.7,282.5 483.6,282.9 489.4,281.3 495.8,280.8 502.5,281.3 509,282.7 515.3,280.1 523.4,281.3 528.4,282.3 536.3,282 544.7,280.8 553.1,281.1 561.6,283.1 568.8,281.2 576.8,282.2 583.8,280.2 590.2,282.1 595.2,281.2 603.9,282.2 609.9,280.3 617.2,281.9 623.3,281.6 632.4,282 639.6,280.1 646.5,280 655.4,281.6 662.8,282.2 667.9,282.7 675.7,280.3 684.5,282.9 693.5,280.4 702.3,282.7 708.3,280.4 716,280.4 723.2,282.8 729.8,281.3 736.4,280.7 741.6,282.1 749.9,283.5 755.3,281.4 763.6,281.2 771.7,283.1 780.2,281.9 788.2,282.4 793.7,280.6 801.7,280.8 809.8,282.2 817.7,280.7 825.7,281.6 831,278.7 839.2,276.7 846.9,270.4 852.9,272 860.8,272.1 868.4,271.6 874.3,271.2 879.6,269.9 886.4,270.6 895.5,270.9 900.8,272.9 905,279.7 905,314.6" fill="#c36a58"/>
<use href="#re" filter="url(#nrl)"/>
<polygon points="105,314.6 105,272.3 123.5,270.1 138.6,274.7 157.9,274.8 171.1,273.2 187.4,276.5 203.6,277.9 223.6,275.2 243.7,278.5 260.6,279.6 278.5,280.5 294.7,282.2 309,281.1 320.7,284.9 337.5,285 355.2,285.6 368.4,287.3 382,287.9 401.2,289.2 421.7,289 441.6,292.1 458.3,295.3 473.8,293.1 491.3,294.7 504.4,294 518.8,297.6 531.9,294.4 550.7,294.9 563.5,297.8 581.4,298.2 593.9,296.5 606.1,297.5 619.9,297.9 632.8,295.9 646.1,300.3 659.3,296.6 674.1,295.9 692.9,296.3 713.1,297.5 725,296.6 739.1,296.5 759.2,299.2 775.1,298 794.3,298.4 812.2,296.5 832.1,296.8 851.9,300 863.6,297.3 878.7,295.9 895.6,298.3 905,298 905,314.6" fill="#a85545" opacity="0.95"/>
<rect x="140" y="237.2" width="18" height="7.8" fill="#c9742c" opacity="0.9"/>
<rect x="215" y="257.1" width="20" height="7.3" fill="#c9742c" opacity="0.9"/>
<rect x="260" y="266.8" width="30" height="9" fill="#c9742c" opacity="0.9"/>
<rect x="385" y="272.7" width="46" height="9.1" fill="#c9742c" opacity="0.9"/>
<rect x="440" y="282.5" width="16" height="9.8" fill="#c9742c" opacity="0.9"/>
<rect x="846" y="271.5" width="54" height="10.7" fill="#c9742c" opacity="0.9"/>
<polyline points="105,215.7 113.9,215.9 121.9,233.2 129.9,232.2 136.3,234.2 145.3,235.9 152.4,236.7 159,239.4 165.7,240.4 173.3,242.5 178.4,242.5 186.2,245.5 194.7,245.9 200.5,248.7 208.6,250.1 216.7,253.3 222.9,256.5 228.2,258.5 234.4,258.6 240.2,260.7 248.6,262.5 255.8,264.6 262,264 269.8,265.3 276.7,266.2 282,267.1 290.7,265.8 299,267.6 305.2,266.5 310.4,267.2 317.2,267.7 324.1,268.2 329.6,267.4 336.8,268.5 342.4,268.1 351.5,270.2 359.4,269.1 366.1,270.5 373.3,270.7 378.4,271.1 384.1,270.1 391.2,272.4 397.8,271.7 403.6,272.9 409.6,271.9 417.3,272.8 424.1,273.2 429,276.8 436.3,279.2 442.3,281.4 449.9,281.2 455.3,280.5 463.8,280.6 470.9,282.2 476.7,282.5 483.6,282.9 489.4,281.3 495.8,280.8 502.5,281.3 509,282.7 515.3,280.1 523.4,281.3 528.4,282.3 536.3,282 544.7,280.8 553.1,281.1 561.6,283.1 568.8,281.2 576.8,282.2 583.8,280.2 590.2,282.1 595.2,281.2 603.9,282.2 609.9,280.3 617.2,281.9 623.3,281.6 632.4,282 639.6,280.1 646.5,280 655.4,281.6 662.8,282.2 667.9,282.7 675.7,280.3 684.5,282.9 693.5,280.4 702.3,282.7 708.3,280.4 716,280.4 723.2,282.8 729.8,281.3 736.4,280.7 741.6,282.1 749.9,283.5 755.3,281.4 763.6,281.2 771.7,283.1 780.2,281.9 788.2,282.4 793.7,280.6 801.7,280.8 809.8,282.2 817.7,280.7 825.7,281.6 831,278.7 839.2,276.7 846.9,270.4 852.9,272 860.8,272.1 868.4,271.6 874.3,271.2 879.6,269.9 886.4,270.6 895.5,270.9 900.8,272.9 905,279.7" fill="none" stroke="#e29c8a" stroke-width="2.5" opacity="0.8"/>
<line x1="1.5" y1="4" x2="1277.5" y2="4" stroke="#f3f3f3" stroke-width="2.5"/>
<path d="M1018.3,280.7 l2,-3.5 l3,3.5 z M1035.7,280.7 l2,-4.9 l3,4.9 z M1040.9,280.7 l2,-8.5 l3,8.5 z M1046.9,280.7 l2,-6.6 l3,6.6 z M1053.8,280.7 l2,-10.9 l3,10.9 z M1087.3,265.7 l2,-2.9 l3,2.9 z M1098.3,265.7 l2,-9.1 l3,9.1 z M1137.3,250.4 l2,-2.6 l3,2.6 z M1145.2,250.4 l2,-7.4 l3,7.4 z M1158.3,250.4 l2,-13.2 l3,13.2 z M1174.5,233.7 l2,-3.7 l3,3.7 z M1187.6,233.7 l2,-7.7 l3,7.7 z M1206.5,218.5 l2,-1.1 l3,1.1 z M1249.6,201.7 l2,-4.4 l3,4.4 z M1256.1,201.7 l2,-6.9 l3,6.9 z M1262.6,201.7 l2,-10.2 l3,10.2 z M1268.7,201.7 l2,-9.3 l3,9.3 z" fill="#fafafa" opacity="0.85"/>
<path d="M1014,280.7 L1016.6,275.4 L1019.5,280.7 z M1018.9,280.7 L1022.8,273.6 L1027.3,280.7 z M1026.4,280.7 L1028.9,271.3 L1031.8,280.7 z M1031.2,280.7 L1033.9,273.6 L1037.1,280.7 z M1036.4,280.7 L1039.1,269.1 L1042.3,280.7 z M1041.6,280.7 L1044.8,271.4 L1048.5,280.7 z M1047.7,280.7 L1051.4,266 L1055.6,280.7 z M1054.7,280.7 L1058.7,264 L1063.3,280.7 z M1062.3,280.7 L1065.5,261 L1069.1,280.7 z M1075.7,265.7 L1079.1,261.9 L1082.9,265.7 z M1082.1,265.7 L1085.3,261.1 L1088.9,265.7 z M1088.1,265.7 L1090.9,257.1 L1094.2,265.7 z M1093.5,265.7 L1096.4,253.3 L1099.7,265.7 z M1099,265.7 L1101.6,250.7 L1104.6,265.7 z M1104,265.7 L1107.1,249 L1110.8,265.7 z M1110,265.7 L1113,249.1 L1116.5,265.7 z M1124.2,250.4 L1127.4,246.8 L1131.1,250.4 z M1130.3,250.4 L1134.5,246.2 L1139.4,250.4 z M1138.4,250.4 L1142.5,240.1 L1147.3,250.4 z M1146.2,250.4 L1149.1,237.2 L1152.3,250.4 z M1151.6,250.4 L1155.6,232.9 L1160.3,250.4 z M1159.3,250.4 L1162.8,233 L1167,250.4 z M1168.4,233.7 L1172,228.1 L1176.3,233.7 z M1175.4,233.7 L1179.2,223.8 L1183.7,233.7 z M1182.7,233.7 L1185.7,223 L1189.1,233.7 z M1188.4,233.7 L1191.9,220 L1196,233.7 z M1200.4,218.5 L1204,216.2 L1208.3,218.5 z M1207.4,218.5 L1210.8,212.6 L1214.8,218.5 z M1214,218.5 L1216.7,206.8 L1219.9,218.5 z M1219.2,218.5 L1222.8,202.8 L1226.9,218.5 z M1236.2,201.7 L1239.9,196.7 L1244.1,201.7 z M1243.2,201.7 L1247,195.2 L1251.5,201.7 z M1250.6,201.7 L1253.9,192.1 L1257.8,201.7 z M1257,201.7 L1260.3,188 L1264.3,201.7 z M1263.4,201.7 L1266.6,189.1 L1270.3,201.7 z M1269.5,201.7 L1273,185.2 L1277.1,201.7 z M917.5,280.7 l3,-2.2 l3,2.2 z M953.1,280.7 l3,-3.5 l3,3.5 z M1003.5,280.7 l3,-5.9 l3,5.9 z" fill="#8e8e8e" opacity="0.85"/>
<polygon id="ge" points="905,314.6 905,279.7 911.8,280.4 916,280.9 920.8,278.8 925.5,278.7 931.4,281.1 939,279.1 946.2,278.7 952.8,278.8 960,279.9 968,279.8 973.7,279.5 981.3,280.9 988,280.7 995,279 1002.9,279.3 1008.9,279.5 1015.2,279.4 1021,279.8 1027.3,278.9 1032,278.7 1037.4,281.2 1041.5,280.5 1047.9,281.1 1052.4,280 1056.6,279.4 1066,279.7 1066,264.7 1070,266.4 1076.3,266.1 1081.2,266.4 1086.1,264.7 1092.9,265.5 1097.3,263.9 1102.5,264.4 1108.4,265.8 1114.7,264.7 1114.7,249.4 1120.6,249.3 1128.6,250.1 1136.3,248.8 1142.2,248.5 1149.4,250.6 1153.6,250.6 1162,249.4 1162,232.7 1167,234.4 1174.3,233.4 1180.3,231.7 1187.9,234.1 1194,232.7 1194,217.5 1198,217.7 1203.3,217.5 1209.9,218.5 1214.9,216.5 1219.7,217.1 1226,217.5 1226,200.7 1231.6,200.4 1235.8,199.9 1243.5,202.2 1248.3,200.1 1255.1,200.1 1260.1,200.2 1267,202.1 1273.1,199.6 1277,200.7 1277,314.6" fill="#9aa070"/>
<use href="#ge" filter="url(#ngl)"/>
<use href="#ge" filter="url(#ngd)"/>
<polygon points="905,290 1066,290 1066,306 1276,306 1276,313 905,313" fill="#80855a" opacity="0.5"/>
<line x1="902" y1="3" x2="902" y2="276" stroke="#f2f2f2" stroke-width="3.5"/>
<line x1="899.3" y1="3" x2="899.3" y2="276" stroke="#a5a5a5" stroke-width="1.5"/>
<line x1="904.7" y1="3" x2="904.7" y2="276" stroke="#a5a5a5" stroke-width="1.5"/>
<line x1="0" y1="40.5" x2="13.5" y2="40.5" stroke="#111" stroke-width="3"/>
<line x1="0" y1="155.5" x2="13.5" y2="155.5" stroke="#111" stroke-width="3"/>
<line x1="0" y1="271" x2="13.5" y2="271" stroke="#111" stroke-width="3"/>
<line x1="266" y1="314.6" x2="266" y2="303.6" stroke="#1a1208" stroke-width="2.5"/>
<line x1="532" y1="314.6" x2="532" y2="303.6" stroke="#1a1208" stroke-width="2.5"/>
<line x1="798" y1="314.6" x2="798" y2="303.6" stroke="#1a1208" stroke-width="2.5"/>
<line x1="1064" y1="314.6" x2="1064" y2="303.6" stroke="#1a1208" stroke-width="2.5"/>
<rect x="-2.6" y="-2.6" width="1284.2" height="319.8" fill="none" stroke="#ffffff" stroke-width="1.6"/>
<rect x="0" y="0" width="1279" height="314.6" fill="none" stroke="#111" stroke-width="3"/>
</g>
<text x="212.5" y="60" text-anchor="end">50</text>
<text x="212.5" y="176.2" text-anchor="end">0</text>
<text x="212.5" y="292.5" text-anchor="end">−50</text>
<text x="235.5" y="383.5" text-anchor="middle">0</text>
<text x="501.5" y="383.5" text-anchor="middle">100</text>
<text x="767.5" y="383.5" text-anchor="middle">200</text>
<text x="1033.5" y="383.5" text-anchor="middle">300</text>
<text x="1299.5" y="383.5" text-anchor="middle">400</text>
<text x="875.5" y="467" text-anchor="middle" style="font-size:57px"><tspan font-style="italic">x</tspan>/mm</text>
<text x="778" y="551" text-anchor="middle">(a) <tspan font-style="italic">θ</tspan>=0°</text>
<text transform="translate(92,159) rotate(-90)" text-anchor="middle" style="font-size:57px"><tspan font-style="italic">z</tspan>/mm</text>
<text x="1801.5" y="60" text-anchor="end">50</text>
<text x="1801.5" y="176.2" text-anchor="end">0</text>
<text x="1801.5" y="292.5" text-anchor="end">−50</text>
<text x="1824.5" y="383.5" text-anchor="middle">0</text>
<text x="2090.5" y="383.5" text-anchor="middle">100</text>
<text x="2356.5" y="383.5" text-anchor="middle">200</text>
<text x="2622.5" y="383.5" text-anchor="middle">300</text>
<text x="2888.5" y="383.5" text-anchor="middle">400</text>
<text x="2464.5" y="467" text-anchor="middle" style="font-size:57px"><tspan font-style="italic">x</tspan>/mm</text>
<text x="2367" y="551" text-anchor="middle">(b) <tspan font-style="italic">θ</tspan>=30°</text>
<text transform="translate(1681,159) rotate(-90)" text-anchor="middle" style="font-size:57px"><tspan font-style="italic">z</tspan>/mm</text>
<text x="212.5" y="687.5" text-anchor="end">50</text>
<text x="212.5" y="803.7" text-anchor="end">0</text>
<text x="212.5" y="920" text-anchor="end">−50</text>
<text x="235.5" y="1011" text-anchor="middle">0</text>
<text x="501.5" y="1011" text-anchor="middle">100</text>
<text x="767.5" y="1011" text-anchor="middle">200</text>
<text x="1033.5" y="1011" text-anchor="middle">300</text>
<text x="1299.5" y="1011" text-anchor="middle">400</text>
<text x="875.5" y="1094.5" text-anchor="middle" style="font-size:57px"><tspan font-style="italic">x</tspan>/mm</text>
<text x="778" y="1178.5" text-anchor="middle">(c) <tspan font-style="italic">θ</tspan>=60°</text>
<text transform="translate(92,786.5) rotate(-90)" text-anchor="middle" style="font-size:57px"><tspan font-style="italic">z</tspan>/mm</text>
<text x="1801.5" y="687.5" text-anchor="end">50</text>
<text x="1801.5" y="803.7" text-anchor="end">0</text>
<text x="1801.5" y="920" text-anchor="end">−50</text>
<text x="1824.5" y="1011" text-anchor="middle">0</text>
<text x="2090.5" y="1011" text-anchor="middle">100</text>
<text x="2356.5" y="1011" text-anchor="middle">200</text>
<text x="2622.5" y="1011" text-anchor="middle">300</text>
<text x="2888.5" y="1011" text-anchor="middle">400</text>
<text x="2464.5" y="1094.5" text-anchor="middle" style="font-size:57px"><tspan font-style="italic">x</tspan>/mm</text>
<text x="2367" y="1178.5" text-anchor="middle">(d) <tspan font-style="italic">θ</tspan>=90°</text>
<text transform="translate(1681,786.5) rotate(-90)" text-anchor="middle" style="font-size:57px"><tspan font-style="italic">z</tspan>/mm</text>
<text x="1007" y="1313.8" text-anchor="end">50</text>
<text x="1007" y="1430" text-anchor="end">0</text>
<text x="1007" y="1546.3" text-anchor="end">−50</text>
<text x="1030" y="1637.3" text-anchor="middle">0</text>
<text x="1296" y="1637.3" text-anchor="middle">100</text>
<text x="1562" y="1637.3" text-anchor="middle">200</text>
<text x="1828" y="1637.3" text-anchor="middle">300</text>
<text x="2094" y="1637.3" text-anchor="middle">400</text>
<text x="1670" y="1720.8" text-anchor="middle" style="font-size:57px"><tspan font-style="italic">x</tspan>/mm</text>
<text x="1572.5" y="1804.8" text-anchor="middle">(e) <tspan font-style="italic">θ</tspan>=120°</text>
<text transform="translate(886.5,1412.8) rotate(-90)" text-anchor="middle" style="font-size:57px"><tspan font-style="italic">z</tspan>/mm</text>
</svg>
</body></html>
